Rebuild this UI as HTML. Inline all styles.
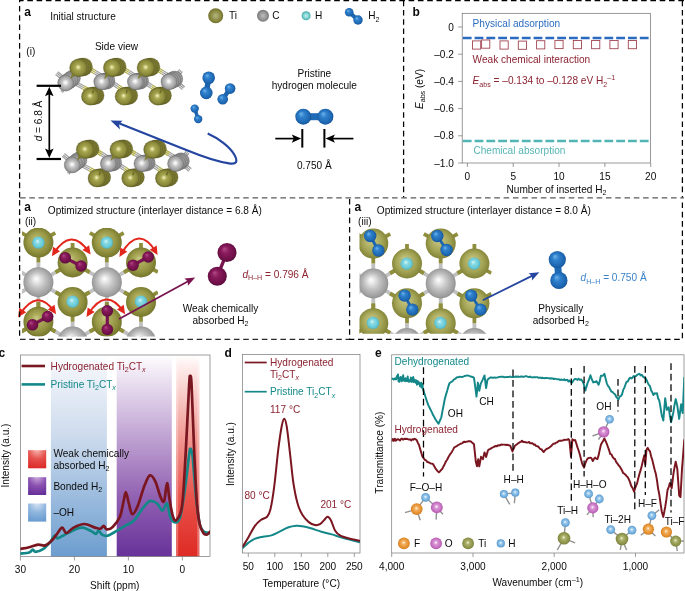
<!DOCTYPE html>
<html><head><meta charset="utf-8"><title>Figure</title>
<style>html,body{margin:0;padding:0;background:#fff;overflow:hidden}svg{display:block}text{font-family:"Liberation Sans",sans-serif;font-size:10.1px}</style></head><body>
<svg width="685" height="591" viewBox="0 0 685 591">
<defs>
<radialGradient id="gTi" cx="0.5" cy="0.5" r="0.55" fx="0.48" fy="0.46"><stop offset="0" stop-color="#fdfde0"/><stop offset="0.1" stop-color="#dad994"/><stop offset="0.32" stop-color="#a5a44e"/><stop offset="0.7" stop-color="#8c8b3c"/><stop offset="0.92" stop-color="#6c6b28"/><stop offset="1" stop-color="#56551c"/></radialGradient>
<radialGradient id="gC" cx="0.5" cy="0.5" r="0.55" fx="0.48" fy="0.46"><stop offset="0" stop-color="#ffffff"/><stop offset="0.12" stop-color="#f2f2f2"/><stop offset="0.38" stop-color="#c4c4c4"/><stop offset="0.72" stop-color="#a2a2a2"/><stop offset="1" stop-color="#6e6e6e"/></radialGradient>
<radialGradient id="gTiL" cx="0.5" cy="0.5" r="0.55" fx="0.5" fy="0.5"><stop offset="0" stop-color="#b6b680"/><stop offset="0.55" stop-color="#8e8e48"/><stop offset="0.85" stop-color="#77772f"/><stop offset="1" stop-color="#66662a"/></radialGradient>
<radialGradient id="gCL" cx="0.5" cy="0.5" r="0.55" fx="0.5" fy="0.5"><stop offset="0" stop-color="#bcbcbc"/><stop offset="0.55" stop-color="#979797"/><stop offset="0.85" stop-color="#7c7c7c"/><stop offset="1" stop-color="#707070"/></radialGradient>
<radialGradient id="gHL" cx="0.5" cy="0.5" r="0.55" fx="0.5" fy="0.5"><stop offset="0" stop-color="#c2f0f0"/><stop offset="0.5" stop-color="#84d4d4"/><stop offset="0.85" stop-color="#4cb0b0"/><stop offset="1" stop-color="#3fa3a3"/></radialGradient>
<radialGradient id="gTiB" cx="0.5" cy="0.5" r="0.55" fx="0.42" fy="0.36"><stop offset="0" stop-color="#c9c986"/><stop offset="0.25" stop-color="#adad5e"/><stop offset="0.6" stop-color="#979746"/><stop offset="0.88" stop-color="#7c7c30"/><stop offset="1" stop-color="#636326"/></radialGradient>
<radialGradient id="gTiC" cx="0.5" cy="0.5" r="0.55" fx="0.42" fy="0.36"><stop offset="0" stop-color="#d4d498"/><stop offset="0.25" stop-color="#baba74"/><stop offset="0.6" stop-color="#a4a456"/><stop offset="0.88" stop-color="#88883c"/><stop offset="1" stop-color="#6c6c2c"/></radialGradient>
<radialGradient id="gCB" cx="0.5" cy="0.5" r="0.55" fx="0.42" fy="0.38"><stop offset="0" stop-color="#ffffff"/><stop offset="0.15" stop-color="#ededed"/><stop offset="0.5" stop-color="#c0c0c0"/><stop offset="0.85" stop-color="#9c9c9c"/><stop offset="1" stop-color="#7c7c7c"/></radialGradient>
<radialGradient id="gHc" cx="0.5" cy="0.5" r="0.55" fx="0.42" fy="0.38"><stop offset="0" stop-color="#dcf8fa"/><stop offset="0.3" stop-color="#8adbe4"/><stop offset="0.75" stop-color="#66c8d6"/><stop offset="1" stop-color="#3fa4b6"/></radialGradient>
<radialGradient id="gHb" cx="0.5" cy="0.5" r="0.55" fx="0.35" fy="0.3"><stop offset="0" stop-color="#6db4ea"/><stop offset="0.35" stop-color="#2f80cc"/><stop offset="0.8" stop-color="#1c65b0"/><stop offset="1" stop-color="#134a88"/></radialGradient>
<radialGradient id="gHp" cx="0.5" cy="0.5" r="0.55" fx="0.35" fy="0.3"><stop offset="0" stop-color="#b04a86"/><stop offset="0.35" stop-color="#8a1b5c"/><stop offset="0.8" stop-color="#6d0f47"/><stop offset="1" stop-color="#4a0a30"/></radialGradient>
<radialGradient id="gF" cx="0.5" cy="0.5" r="0.55" fx="0.47" fy="0.42"><stop offset="0" stop-color="#fff6e4"/><stop offset="0.28" stop-color="#f2b060"/><stop offset="0.75" stop-color="#e38c2a"/><stop offset="1" stop-color="#c67216"/></radialGradient>
<radialGradient id="gO" cx="0.5" cy="0.5" r="0.55" fx="0.47" fy="0.42"><stop offset="0" stop-color="#ffffff"/><stop offset="0.28" stop-color="#dc98d6"/><stop offset="0.75" stop-color="#c26abe"/><stop offset="1" stop-color="#a64ea2"/></radialGradient>
<radialGradient id="gT2" cx="0.5" cy="0.5" r="0.55" fx="0.47" fy="0.42"><stop offset="0" stop-color="#f4f4d8"/><stop offset="0.28" stop-color="#adb26c"/><stop offset="0.75" stop-color="#8b9148"/><stop offset="1" stop-color="#727836"/></radialGradient>
<radialGradient id="gH2" cx="0.5" cy="0.5" r="0.55" fx="0.47" fy="0.42"><stop offset="0" stop-color="#f4faff"/><stop offset="0.3" stop-color="#9ccaec"/><stop offset="0.75" stop-color="#6aa8da"/><stop offset="1" stop-color="#4c8cc2"/></radialGradient>
<linearGradient id="bBlue" x1="0" y1="0" x2="0" y2="1"><stop offset="0" stop-color="#ffffff"/><stop offset="0.06" stop-color="#f2f5fa"/><stop offset="0.4" stop-color="#cddbed"/><stop offset="1" stop-color="#6c9dcf"/></linearGradient>
<linearGradient id="bPur" x1="0" y1="0" x2="0" y2="1"><stop offset="0" stop-color="#ffffff"/><stop offset="0.07" stop-color="#f3edf7"/><stop offset="0.32" stop-color="#cdb6dc"/><stop offset="0.7" stop-color="#9262b2"/><stop offset="1" stop-color="#67329a"/></linearGradient>
<linearGradient id="bRed" x1="0" y1="0" x2="0" y2="1"><stop offset="0" stop-color="#ffffff"/><stop offset="0.06" stop-color="#fdeceb"/><stop offset="0.3" stop-color="#f5b3ae"/><stop offset="0.7" stop-color="#e8544c"/><stop offset="1" stop-color="#de2a24"/></linearGradient>
<radialGradient id="lRed" cx="0.5" cy="0" r="1.0"><stop offset="0" stop-color="#f6b4b0"/><stop offset="0.5" stop-color="#e6504c"/><stop offset="1" stop-color="#dc2c2a"/></radialGradient>
<radialGradient id="lPur" cx="0.5" cy="0" r="1.0"><stop offset="0" stop-color="#c9a8dc"/><stop offset="0.5" stop-color="#8a50b0"/><stop offset="1" stop-color="#66309a"/></radialGradient>
<radialGradient id="lBlue" cx="0.5" cy="0" r="1.0"><stop offset="0" stop-color="#d6e4f4"/><stop offset="0.5" stop-color="#8fb6de"/><stop offset="1" stop-color="#6a9cd0"/></radialGradient>
<clipPath id="clip2"><rect x="22" y="228" width="136" height="108.5"/></clipPath>
<clipPath id="clip3"><rect x="359.5" y="228" width="132.2" height="105.7"/></clipPath>
<clipPath id="clipC"><rect x="20.4" y="355" width="189.6" height="200.5"/></clipPath>
<clipPath id="clipD"><rect x="242.5" y="354.5" width="117.5" height="198"/></clipPath>
<clipPath id="clipE"><rect x="391.7" y="355" width="292.3" height="198"/></clipPath>
</defs>
<rect width="685" height="591" fill="#fff"/>
<text x="24.3" y="16.0" fill="#0b0b0b" style="font-size:12px" font-weight="bold">a</text>
<text x="50.2" y="19.9" fill="#0b0b0b">Initial structure</text>
<text x="26.3" y="54.6" fill="#0b0b0b">(i)</text>
<text x="94.9" y="49.6" fill="#0b0b0b">Side view</text>
<circle cx="215.7" cy="15.8" r="7.5" fill="url(#gTiL)"/>
<text x="229.0" y="19.4" fill="#0b0b0b">Ti</text>
<circle cx="263.0" cy="15.8" r="6.0" fill="url(#gCL)"/>
<text x="272.2" y="19.4" fill="#0b0b0b">C</text>
<circle cx="306.1" cy="15.8" r="4.5" fill="url(#gHL)"/>
<text x="314.9" y="19.4" fill="#0b0b0b">H</text>
<line x1="349.2" y1="12.3" x2="358.0" y2="20.0" stroke="#1c65b0" stroke-width="4"/>
<circle cx="349.2" cy="12.3" r="4.3" fill="url(#gHb)"/>
<circle cx="358.0" cy="20.0" r="4.7" fill="url(#gHb)"/>
<text x="368.2" y="19.4" fill="#0b0b0b">H<tspan font-size="7.1" dy="2.4">2</tspan><tspan dy="-2.4">&#8203;</tspan></text>
<line x1="69.4" y1="79.5" x2="75.8" y2="71.8" stroke="#9e9e9e" stroke-width="1.15"/>
<line x1="75.8" y1="71.8" x2="82.2" y2="64.2" stroke="#b3b04c" stroke-width="1.25"/>
<line x1="70.7" y1="80.6" x2="77.1" y2="72.9" stroke="#9e9e9e" stroke-width="1.15"/>
<line x1="77.1" y1="72.9" x2="83.5" y2="65.3" stroke="#b3b04c" stroke-width="1.25"/>
<line x1="72.0" y1="81.7" x2="78.4" y2="74.1" stroke="#9e9e9e" stroke-width="1.15"/>
<line x1="78.4" y1="74.1" x2="84.8" y2="66.4" stroke="#b3b04c" stroke-width="1.25"/>
<line x1="71.5" y1="79.1" x2="83.8" y2="85.7" stroke="#9e9e9e" stroke-width="1.15"/>
<line x1="83.8" y1="85.7" x2="96.0" y2="92.4" stroke="#b3b04c" stroke-width="1.25"/>
<line x1="70.7" y1="80.6" x2="83.0" y2="87.2" stroke="#9e9e9e" stroke-width="1.15"/>
<line x1="83.0" y1="87.2" x2="95.2" y2="93.9" stroke="#b3b04c" stroke-width="1.25"/>
<line x1="69.9" y1="82.1" x2="82.1" y2="88.8" stroke="#9e9e9e" stroke-width="1.15"/>
<line x1="82.1" y1="88.8" x2="94.4" y2="95.4" stroke="#b3b04c" stroke-width="1.25"/>
<line x1="105.9" y1="80.8" x2="94.2" y2="73.8" stroke="#9e9e9e" stroke-width="1.15"/>
<line x1="94.2" y1="73.8" x2="82.6" y2="66.8" stroke="#b3b04c" stroke-width="1.25"/>
<line x1="106.8" y1="79.3" x2="95.2" y2="72.3" stroke="#9e9e9e" stroke-width="1.15"/>
<line x1="95.2" y1="72.3" x2="83.5" y2="65.3" stroke="#b3b04c" stroke-width="1.25"/>
<line x1="107.7" y1="77.8" x2="96.1" y2="70.8" stroke="#9e9e9e" stroke-width="1.15"/>
<line x1="96.1" y1="70.8" x2="84.4" y2="63.8" stroke="#b3b04c" stroke-width="1.25"/>
<line x1="105.4" y1="78.3" x2="110.6" y2="71.3" stroke="#9e9e9e" stroke-width="1.15"/>
<line x1="110.6" y1="71.3" x2="115.8" y2="64.3" stroke="#b3b04c" stroke-width="1.25"/>
<line x1="106.8" y1="79.3" x2="112.0" y2="72.3" stroke="#9e9e9e" stroke-width="1.15"/>
<line x1="112.0" y1="72.3" x2="117.2" y2="65.3" stroke="#b3b04c" stroke-width="1.25"/>
<line x1="108.2" y1="80.3" x2="113.4" y2="73.3" stroke="#9e9e9e" stroke-width="1.15"/>
<line x1="113.4" y1="73.3" x2="118.6" y2="66.3" stroke="#b3b04c" stroke-width="1.25"/>
<line x1="108.2" y1="80.4" x2="102.4" y2="87.7" stroke="#9e9e9e" stroke-width="1.15"/>
<line x1="102.4" y1="87.7" x2="96.6" y2="95.0" stroke="#b3b04c" stroke-width="1.25"/>
<line x1="106.8" y1="79.3" x2="101.0" y2="86.6" stroke="#9e9e9e" stroke-width="1.15"/>
<line x1="101.0" y1="86.6" x2="95.2" y2="93.9" stroke="#b3b04c" stroke-width="1.25"/>
<line x1="105.4" y1="78.2" x2="99.6" y2="85.5" stroke="#9e9e9e" stroke-width="1.15"/>
<line x1="99.6" y1="85.5" x2="93.8" y2="92.8" stroke="#b3b04c" stroke-width="1.25"/>
<line x1="107.8" y1="77.8" x2="118.8" y2="85.1" stroke="#9e9e9e" stroke-width="1.15"/>
<line x1="118.8" y1="85.1" x2="129.9" y2="92.4" stroke="#b3b04c" stroke-width="1.25"/>
<line x1="106.8" y1="79.3" x2="117.8" y2="86.6" stroke="#9e9e9e" stroke-width="1.15"/>
<line x1="117.8" y1="86.6" x2="128.9" y2="93.9" stroke="#b3b04c" stroke-width="1.25"/>
<line x1="105.8" y1="80.8" x2="116.9" y2="88.1" stroke="#9e9e9e" stroke-width="1.15"/>
<line x1="116.9" y1="88.1" x2="127.9" y2="95.4" stroke="#b3b04c" stroke-width="1.25"/>
<line x1="139.5" y1="80.8" x2="127.9" y2="73.8" stroke="#9e9e9e" stroke-width="1.15"/>
<line x1="127.9" y1="73.8" x2="116.3" y2="66.8" stroke="#b3b04c" stroke-width="1.25"/>
<line x1="140.4" y1="79.3" x2="128.8" y2="72.3" stroke="#9e9e9e" stroke-width="1.15"/>
<line x1="128.8" y1="72.3" x2="117.2" y2="65.3" stroke="#b3b04c" stroke-width="1.25"/>
<line x1="141.3" y1="77.8" x2="129.7" y2="70.8" stroke="#9e9e9e" stroke-width="1.15"/>
<line x1="129.7" y1="70.8" x2="118.1" y2="63.8" stroke="#b3b04c" stroke-width="1.25"/>
<line x1="139.0" y1="78.2" x2="144.2" y2="71.2" stroke="#9e9e9e" stroke-width="1.15"/>
<line x1="144.2" y1="71.2" x2="149.5" y2="64.2" stroke="#b3b04c" stroke-width="1.25"/>
<line x1="140.4" y1="79.3" x2="145.7" y2="72.3" stroke="#9e9e9e" stroke-width="1.15"/>
<line x1="145.7" y1="72.3" x2="150.9" y2="65.3" stroke="#b3b04c" stroke-width="1.25"/>
<line x1="141.8" y1="80.3" x2="147.1" y2="73.3" stroke="#9e9e9e" stroke-width="1.15"/>
<line x1="147.1" y1="73.3" x2="152.3" y2="66.3" stroke="#b3b04c" stroke-width="1.25"/>
<line x1="141.8" y1="80.4" x2="136.0" y2="87.7" stroke="#9e9e9e" stroke-width="1.15"/>
<line x1="136.0" y1="87.7" x2="130.3" y2="95.0" stroke="#b3b04c" stroke-width="1.25"/>
<line x1="140.4" y1="79.3" x2="134.7" y2="86.6" stroke="#9e9e9e" stroke-width="1.15"/>
<line x1="134.7" y1="86.6" x2="128.9" y2="93.9" stroke="#b3b04c" stroke-width="1.25"/>
<line x1="139.0" y1="78.2" x2="133.3" y2="85.5" stroke="#9e9e9e" stroke-width="1.15"/>
<line x1="133.3" y1="85.5" x2="127.5" y2="92.8" stroke="#b3b04c" stroke-width="1.25"/>
<line x1="141.4" y1="77.8" x2="152.5" y2="85.1" stroke="#9e9e9e" stroke-width="1.15"/>
<line x1="152.5" y1="85.1" x2="163.6" y2="92.4" stroke="#b3b04c" stroke-width="1.25"/>
<line x1="140.4" y1="79.3" x2="151.5" y2="86.6" stroke="#9e9e9e" stroke-width="1.15"/>
<line x1="151.5" y1="86.6" x2="162.6" y2="93.9" stroke="#b3b04c" stroke-width="1.25"/>
<line x1="139.4" y1="80.8" x2="150.5" y2="88.1" stroke="#9e9e9e" stroke-width="1.15"/>
<line x1="150.5" y1="88.1" x2="161.6" y2="95.4" stroke="#b3b04c" stroke-width="1.25"/>
<line x1="173.1" y1="80.8" x2="161.5" y2="73.8" stroke="#9e9e9e" stroke-width="1.15"/>
<line x1="161.5" y1="73.8" x2="150.0" y2="66.8" stroke="#b3b04c" stroke-width="1.25"/>
<line x1="174.0" y1="79.3" x2="162.4" y2="72.3" stroke="#9e9e9e" stroke-width="1.15"/>
<line x1="162.4" y1="72.3" x2="150.9" y2="65.3" stroke="#b3b04c" stroke-width="1.25"/>
<line x1="174.9" y1="77.8" x2="163.4" y2="70.8" stroke="#9e9e9e" stroke-width="1.15"/>
<line x1="163.4" y1="70.8" x2="151.8" y2="63.8" stroke="#b3b04c" stroke-width="1.25"/>
<line x1="175.4" y1="80.4" x2="169.7" y2="87.7" stroke="#9e9e9e" stroke-width="1.15"/>
<line x1="169.7" y1="87.7" x2="164.0" y2="95.0" stroke="#b3b04c" stroke-width="1.25"/>
<line x1="174.0" y1="79.3" x2="168.3" y2="86.6" stroke="#9e9e9e" stroke-width="1.15"/>
<line x1="168.3" y1="86.6" x2="162.6" y2="93.9" stroke="#b3b04c" stroke-width="1.25"/>
<line x1="172.6" y1="78.2" x2="166.9" y2="85.5" stroke="#9e9e9e" stroke-width="1.15"/>
<line x1="166.9" y1="85.5" x2="161.2" y2="92.8" stroke="#b3b04c" stroke-width="1.25"/>
<line x1="66.6" y1="83.5" x2="61.1" y2="79.0" stroke="#9e9e9e" stroke-width="1.15"/>
<line x1="61.1" y1="79.0" x2="55.6" y2="74.5" stroke="#9e9e9e" stroke-width="1.25"/>
<line x1="67.7" y1="82.1" x2="62.2" y2="77.6" stroke="#9e9e9e" stroke-width="1.15"/>
<line x1="62.2" y1="77.6" x2="56.7" y2="73.1" stroke="#9e9e9e" stroke-width="1.25"/>
<line x1="68.8" y1="80.7" x2="63.3" y2="76.2" stroke="#9e9e9e" stroke-width="1.15"/>
<line x1="63.3" y1="76.2" x2="57.8" y2="71.7" stroke="#9e9e9e" stroke-width="1.25"/>
<line x1="68.4" y1="83.6" x2="65.4" y2="88.1" stroke="#9e9e9e" stroke-width="1.15"/>
<line x1="65.4" y1="88.1" x2="62.4" y2="92.6" stroke="#9e9e9e" stroke-width="1.25"/>
<line x1="67.0" y1="82.6" x2="64.0" y2="87.1" stroke="#9e9e9e" stroke-width="1.15"/>
<line x1="64.0" y1="87.1" x2="61.0" y2="91.6" stroke="#9e9e9e" stroke-width="1.25"/>
<line x1="175.2" y1="78.5" x2="179.9" y2="82.7" stroke="#9e9e9e" stroke-width="1.15"/>
<line x1="179.9" y1="82.7" x2="184.7" y2="87.0" stroke="#9e9e9e" stroke-width="1.25"/>
<line x1="174.0" y1="79.8" x2="178.8" y2="84.0" stroke="#9e9e9e" stroke-width="1.15"/>
<line x1="178.8" y1="84.0" x2="183.5" y2="88.3" stroke="#9e9e9e" stroke-width="1.25"/>
<line x1="172.8" y1="81.1" x2="177.6" y2="85.4" stroke="#9e9e9e" stroke-width="1.15"/>
<line x1="177.6" y1="85.4" x2="182.3" y2="89.6" stroke="#9e9e9e" stroke-width="1.25"/>
<line x1="172.6" y1="78.8" x2="176.1" y2="74.0" stroke="#9e9e9e" stroke-width="1.15"/>
<line x1="176.1" y1="74.0" x2="179.6" y2="69.3" stroke="#9e9e9e" stroke-width="1.25"/>
<line x1="174.0" y1="79.8" x2="177.5" y2="75.0" stroke="#9e9e9e" stroke-width="1.15"/>
<line x1="177.5" y1="75.0" x2="181.0" y2="70.3" stroke="#9e9e9e" stroke-width="1.25"/>
<line x1="175.4" y1="80.8" x2="178.9" y2="76.1" stroke="#9e9e9e" stroke-width="1.15"/>
<line x1="178.9" y1="76.1" x2="182.4" y2="71.3" stroke="#9e9e9e" stroke-width="1.25"/>
<circle cx="95.3" cy="95.5" r="8.8" fill="url(#gTi)" stroke="#4a4916" stroke-opacity="0.5" stroke-width="0.5"/>
<circle cx="129.0" cy="95.5" r="8.8" fill="url(#gTi)" stroke="#4a4916" stroke-opacity="0.5" stroke-width="0.5"/>
<circle cx="162.7" cy="95.5" r="8.8" fill="url(#gTi)" stroke="#4a4916" stroke-opacity="0.5" stroke-width="0.5"/>
<circle cx="93.6" cy="95.8" r="8.8" fill="url(#gTi)" stroke="#4a4916" stroke-opacity="0.5" stroke-width="0.5"/>
<circle cx="127.3" cy="95.8" r="8.8" fill="url(#gTi)" stroke="#4a4916" stroke-opacity="0.5" stroke-width="0.5"/>
<circle cx="161.0" cy="95.8" r="8.8" fill="url(#gTi)" stroke="#4a4916" stroke-opacity="0.5" stroke-width="0.5"/>
<circle cx="91.9" cy="96.1" r="8.8" fill="url(#gTi)" stroke="#4a4916" stroke-opacity="0.5" stroke-width="0.5"/>
<circle cx="125.6" cy="96.1" r="8.8" fill="url(#gTi)" stroke="#4a4916" stroke-opacity="0.5" stroke-width="0.5"/>
<circle cx="159.3" cy="96.1" r="8.8" fill="url(#gTi)" stroke="#4a4916" stroke-opacity="0.5" stroke-width="0.5"/>
<circle cx="90.2" cy="96.4" r="8.8" fill="url(#gTi)" stroke="#4a4916" stroke-opacity="0.5" stroke-width="0.5"/>
<circle cx="123.9" cy="96.4" r="8.8" fill="url(#gTi)" stroke="#4a4916" stroke-opacity="0.5" stroke-width="0.5"/>
<circle cx="157.6" cy="96.4" r="8.8" fill="url(#gTi)" stroke="#4a4916" stroke-opacity="0.5" stroke-width="0.5"/>
<circle cx="72.3" cy="78.3" r="8.1" fill="url(#gC)" stroke="#555" stroke-opacity="0.5" stroke-width="0.5"/>
<circle cx="70.1" cy="79.9" r="8.1" fill="url(#gC)" stroke="#555" stroke-opacity="0.5" stroke-width="0.5"/>
<circle cx="67.9" cy="81.5" r="8.1" fill="url(#gC)" stroke="#555" stroke-opacity="0.5" stroke-width="0.5"/>
<circle cx="65.7" cy="83.1" r="8.1" fill="url(#gC)" stroke="#555" stroke-opacity="0.5" stroke-width="0.5"/>
<circle cx="106.9" cy="80.9" r="8.1" fill="url(#gC)" stroke="#555" stroke-opacity="0.5" stroke-width="0.5"/>
<circle cx="105.2" cy="81.2" r="8.1" fill="url(#gC)" stroke="#555" stroke-opacity="0.5" stroke-width="0.5"/>
<circle cx="103.5" cy="81.5" r="8.1" fill="url(#gC)" stroke="#555" stroke-opacity="0.5" stroke-width="0.5"/>
<circle cx="101.8" cy="81.8" r="8.1" fill="url(#gC)" stroke="#555" stroke-opacity="0.5" stroke-width="0.5"/>
<circle cx="140.5" cy="80.9" r="8.1" fill="url(#gC)" stroke="#555" stroke-opacity="0.5" stroke-width="0.5"/>
<circle cx="138.8" cy="81.2" r="8.1" fill="url(#gC)" stroke="#555" stroke-opacity="0.5" stroke-width="0.5"/>
<circle cx="137.1" cy="81.5" r="8.1" fill="url(#gC)" stroke="#555" stroke-opacity="0.5" stroke-width="0.5"/>
<circle cx="135.4" cy="81.8" r="8.1" fill="url(#gC)" stroke="#555" stroke-opacity="0.5" stroke-width="0.5"/>
<circle cx="174.7" cy="79.1" r="8.1" fill="url(#gC)" stroke="#555" stroke-opacity="0.5" stroke-width="0.5"/>
<circle cx="172.8" cy="80.0" r="8.1" fill="url(#gC)" stroke="#555" stroke-opacity="0.5" stroke-width="0.5"/>
<circle cx="170.9" cy="80.9" r="8.1" fill="url(#gC)" stroke="#555" stroke-opacity="0.5" stroke-width="0.5"/>
<circle cx="169.0" cy="81.8" r="8.1" fill="url(#gC)" stroke="#555" stroke-opacity="0.5" stroke-width="0.5"/>
<line x1="93.6" y1="89.9" x2="92.6" y2="93.4" stroke="#6f6e28" stroke-width="1.6"/>
<line x1="127.3" y1="89.9" x2="126.3" y2="93.4" stroke="#6f6e28" stroke-width="1.6"/>
<line x1="161.0" y1="89.9" x2="160.0" y2="93.4" stroke="#6f6e28" stroke-width="1.6"/>
<circle cx="83.6" cy="66.9" r="8.9" fill="url(#gTi)" stroke="#4a4916" stroke-opacity="0.5" stroke-width="0.5"/>
<circle cx="117.3" cy="66.9" r="8.9" fill="url(#gTi)" stroke="#4a4916" stroke-opacity="0.5" stroke-width="0.5"/>
<circle cx="151.0" cy="66.9" r="8.9" fill="url(#gTi)" stroke="#4a4916" stroke-opacity="0.5" stroke-width="0.5"/>
<circle cx="81.9" cy="67.2" r="8.9" fill="url(#gTi)" stroke="#4a4916" stroke-opacity="0.5" stroke-width="0.5"/>
<circle cx="115.6" cy="67.2" r="8.9" fill="url(#gTi)" stroke="#4a4916" stroke-opacity="0.5" stroke-width="0.5"/>
<circle cx="149.3" cy="67.2" r="8.9" fill="url(#gTi)" stroke="#4a4916" stroke-opacity="0.5" stroke-width="0.5"/>
<circle cx="80.2" cy="67.5" r="8.9" fill="url(#gTi)" stroke="#4a4916" stroke-opacity="0.5" stroke-width="0.5"/>
<circle cx="113.9" cy="67.5" r="8.9" fill="url(#gTi)" stroke="#4a4916" stroke-opacity="0.5" stroke-width="0.5"/>
<circle cx="147.6" cy="67.5" r="8.9" fill="url(#gTi)" stroke="#4a4916" stroke-opacity="0.5" stroke-width="0.5"/>
<circle cx="78.5" cy="67.8" r="8.9" fill="url(#gTi)" stroke="#4a4916" stroke-opacity="0.5" stroke-width="0.5"/>
<circle cx="112.2" cy="67.8" r="8.9" fill="url(#gTi)" stroke="#4a4916" stroke-opacity="0.5" stroke-width="0.5"/>
<circle cx="145.9" cy="67.8" r="8.9" fill="url(#gTi)" stroke="#4a4916" stroke-opacity="0.5" stroke-width="0.5"/>
<path d="M72.2 73.0L74.9 75.4L70.3 79.2Z" fill="#7d7c30"/>
<path d="M105.9 73.0L108.6 75.4L104.0 79.2Z" fill="#7d7c30"/>
<path d="M139.6 73.0L142.3 75.4L137.7 79.2Z" fill="#7d7c30"/>
<line x1="76.0" y1="161.3" x2="82.4" y2="153.6" stroke="#9e9e9e" stroke-width="1.15"/>
<line x1="82.4" y1="153.6" x2="88.8" y2="146.0" stroke="#b3b04c" stroke-width="1.25"/>
<line x1="77.3" y1="162.4" x2="83.7" y2="154.8" stroke="#9e9e9e" stroke-width="1.15"/>
<line x1="83.7" y1="154.8" x2="90.1" y2="147.1" stroke="#b3b04c" stroke-width="1.25"/>
<line x1="78.6" y1="163.5" x2="85.0" y2="155.9" stroke="#9e9e9e" stroke-width="1.15"/>
<line x1="85.0" y1="155.9" x2="91.4" y2="148.2" stroke="#b3b04c" stroke-width="1.25"/>
<line x1="78.1" y1="160.9" x2="90.4" y2="167.5" stroke="#9e9e9e" stroke-width="1.15"/>
<line x1="90.4" y1="167.5" x2="102.6" y2="174.2" stroke="#b3b04c" stroke-width="1.25"/>
<line x1="77.3" y1="162.4" x2="89.5" y2="169.1" stroke="#9e9e9e" stroke-width="1.15"/>
<line x1="89.5" y1="169.1" x2="101.8" y2="175.7" stroke="#b3b04c" stroke-width="1.25"/>
<line x1="76.5" y1="163.9" x2="88.7" y2="170.6" stroke="#9e9e9e" stroke-width="1.15"/>
<line x1="88.7" y1="170.6" x2="101.0" y2="177.2" stroke="#b3b04c" stroke-width="1.25"/>
<line x1="112.5" y1="162.6" x2="100.8" y2="155.6" stroke="#9e9e9e" stroke-width="1.15"/>
<line x1="100.8" y1="155.6" x2="89.2" y2="148.6" stroke="#b3b04c" stroke-width="1.25"/>
<line x1="113.4" y1="161.1" x2="101.8" y2="154.1" stroke="#9e9e9e" stroke-width="1.15"/>
<line x1="101.8" y1="154.1" x2="90.1" y2="147.1" stroke="#b3b04c" stroke-width="1.25"/>
<line x1="114.3" y1="159.6" x2="102.7" y2="152.6" stroke="#9e9e9e" stroke-width="1.15"/>
<line x1="102.7" y1="152.6" x2="91.0" y2="145.6" stroke="#b3b04c" stroke-width="1.25"/>
<line x1="112.0" y1="160.1" x2="117.2" y2="153.1" stroke="#9e9e9e" stroke-width="1.15"/>
<line x1="117.2" y1="153.1" x2="122.4" y2="146.1" stroke="#b3b04c" stroke-width="1.25"/>
<line x1="113.4" y1="161.1" x2="118.6" y2="154.1" stroke="#9e9e9e" stroke-width="1.15"/>
<line x1="118.6" y1="154.1" x2="123.8" y2="147.1" stroke="#b3b04c" stroke-width="1.25"/>
<line x1="114.8" y1="162.1" x2="120.0" y2="155.1" stroke="#9e9e9e" stroke-width="1.15"/>
<line x1="120.0" y1="155.1" x2="125.2" y2="148.1" stroke="#b3b04c" stroke-width="1.25"/>
<line x1="114.8" y1="162.2" x2="109.0" y2="169.5" stroke="#9e9e9e" stroke-width="1.15"/>
<line x1="109.0" y1="169.5" x2="103.2" y2="176.8" stroke="#b3b04c" stroke-width="1.25"/>
<line x1="113.4" y1="161.1" x2="107.6" y2="168.4" stroke="#9e9e9e" stroke-width="1.15"/>
<line x1="107.6" y1="168.4" x2="101.8" y2="175.7" stroke="#b3b04c" stroke-width="1.25"/>
<line x1="112.0" y1="160.0" x2="106.2" y2="167.3" stroke="#9e9e9e" stroke-width="1.15"/>
<line x1="106.2" y1="167.3" x2="100.4" y2="174.6" stroke="#b3b04c" stroke-width="1.25"/>
<line x1="114.4" y1="159.6" x2="125.4" y2="166.9" stroke="#9e9e9e" stroke-width="1.15"/>
<line x1="125.4" y1="166.9" x2="136.5" y2="174.2" stroke="#b3b04c" stroke-width="1.25"/>
<line x1="113.4" y1="161.1" x2="124.4" y2="168.4" stroke="#9e9e9e" stroke-width="1.15"/>
<line x1="124.4" y1="168.4" x2="135.5" y2="175.7" stroke="#b3b04c" stroke-width="1.25"/>
<line x1="112.4" y1="162.6" x2="123.5" y2="169.9" stroke="#9e9e9e" stroke-width="1.15"/>
<line x1="123.5" y1="169.9" x2="134.5" y2="177.2" stroke="#b3b04c" stroke-width="1.25"/>
<line x1="146.1" y1="162.6" x2="134.5" y2="155.6" stroke="#9e9e9e" stroke-width="1.15"/>
<line x1="134.5" y1="155.6" x2="122.9" y2="148.6" stroke="#b3b04c" stroke-width="1.25"/>
<line x1="147.0" y1="161.1" x2="135.4" y2="154.1" stroke="#9e9e9e" stroke-width="1.15"/>
<line x1="135.4" y1="154.1" x2="123.8" y2="147.1" stroke="#b3b04c" stroke-width="1.25"/>
<line x1="147.9" y1="159.6" x2="136.3" y2="152.6" stroke="#9e9e9e" stroke-width="1.15"/>
<line x1="136.3" y1="152.6" x2="124.7" y2="145.6" stroke="#b3b04c" stroke-width="1.25"/>
<line x1="145.6" y1="160.1" x2="150.8" y2="153.1" stroke="#9e9e9e" stroke-width="1.15"/>
<line x1="150.8" y1="153.1" x2="156.1" y2="146.1" stroke="#b3b04c" stroke-width="1.25"/>
<line x1="147.0" y1="161.1" x2="152.2" y2="154.1" stroke="#9e9e9e" stroke-width="1.15"/>
<line x1="152.2" y1="154.1" x2="157.5" y2="147.1" stroke="#b3b04c" stroke-width="1.25"/>
<line x1="148.4" y1="162.1" x2="153.7" y2="155.1" stroke="#9e9e9e" stroke-width="1.15"/>
<line x1="153.7" y1="155.1" x2="158.9" y2="148.1" stroke="#b3b04c" stroke-width="1.25"/>
<line x1="148.4" y1="162.2" x2="142.6" y2="169.5" stroke="#9e9e9e" stroke-width="1.15"/>
<line x1="142.6" y1="169.5" x2="136.9" y2="176.8" stroke="#b3b04c" stroke-width="1.25"/>
<line x1="147.0" y1="161.1" x2="141.2" y2="168.4" stroke="#9e9e9e" stroke-width="1.15"/>
<line x1="141.2" y1="168.4" x2="135.5" y2="175.7" stroke="#b3b04c" stroke-width="1.25"/>
<line x1="145.6" y1="160.0" x2="139.9" y2="167.3" stroke="#9e9e9e" stroke-width="1.15"/>
<line x1="139.9" y1="167.3" x2="134.1" y2="174.6" stroke="#b3b04c" stroke-width="1.25"/>
<line x1="148.0" y1="159.6" x2="159.1" y2="166.9" stroke="#9e9e9e" stroke-width="1.15"/>
<line x1="159.1" y1="166.9" x2="170.2" y2="174.2" stroke="#b3b04c" stroke-width="1.25"/>
<line x1="147.0" y1="161.1" x2="158.1" y2="168.4" stroke="#9e9e9e" stroke-width="1.15"/>
<line x1="158.1" y1="168.4" x2="169.2" y2="175.7" stroke="#b3b04c" stroke-width="1.25"/>
<line x1="146.0" y1="162.6" x2="157.1" y2="169.9" stroke="#9e9e9e" stroke-width="1.15"/>
<line x1="157.1" y1="169.9" x2="168.2" y2="177.2" stroke="#b3b04c" stroke-width="1.25"/>
<line x1="179.7" y1="162.6" x2="168.1" y2="155.6" stroke="#9e9e9e" stroke-width="1.15"/>
<line x1="168.1" y1="155.6" x2="156.6" y2="148.6" stroke="#b3b04c" stroke-width="1.25"/>
<line x1="180.6" y1="161.1" x2="169.0" y2="154.1" stroke="#9e9e9e" stroke-width="1.15"/>
<line x1="169.0" y1="154.1" x2="157.5" y2="147.1" stroke="#b3b04c" stroke-width="1.25"/>
<line x1="181.5" y1="159.6" x2="170.0" y2="152.6" stroke="#9e9e9e" stroke-width="1.15"/>
<line x1="170.0" y1="152.6" x2="158.4" y2="145.6" stroke="#b3b04c" stroke-width="1.25"/>
<line x1="182.0" y1="162.2" x2="176.3" y2="169.5" stroke="#9e9e9e" stroke-width="1.15"/>
<line x1="176.3" y1="169.5" x2="170.6" y2="176.8" stroke="#b3b04c" stroke-width="1.25"/>
<line x1="180.6" y1="161.1" x2="174.9" y2="168.4" stroke="#9e9e9e" stroke-width="1.15"/>
<line x1="174.9" y1="168.4" x2="169.2" y2="175.7" stroke="#b3b04c" stroke-width="1.25"/>
<line x1="179.2" y1="160.0" x2="173.5" y2="167.3" stroke="#9e9e9e" stroke-width="1.15"/>
<line x1="173.5" y1="167.3" x2="167.8" y2="174.6" stroke="#b3b04c" stroke-width="1.25"/>
<line x1="73.2" y1="165.3" x2="67.7" y2="160.8" stroke="#9e9e9e" stroke-width="1.15"/>
<line x1="67.7" y1="160.8" x2="62.2" y2="156.3" stroke="#9e9e9e" stroke-width="1.25"/>
<line x1="74.3" y1="163.9" x2="68.8" y2="159.4" stroke="#9e9e9e" stroke-width="1.15"/>
<line x1="68.8" y1="159.4" x2="63.3" y2="154.9" stroke="#9e9e9e" stroke-width="1.25"/>
<line x1="75.4" y1="162.5" x2="69.9" y2="158.0" stroke="#9e9e9e" stroke-width="1.15"/>
<line x1="69.9" y1="158.0" x2="64.4" y2="153.5" stroke="#9e9e9e" stroke-width="1.25"/>
<line x1="75.0" y1="165.4" x2="72.0" y2="169.9" stroke="#9e9e9e" stroke-width="1.15"/>
<line x1="72.0" y1="169.9" x2="69.0" y2="174.4" stroke="#9e9e9e" stroke-width="1.25"/>
<line x1="73.6" y1="164.4" x2="70.6" y2="168.9" stroke="#9e9e9e" stroke-width="1.15"/>
<line x1="70.6" y1="168.9" x2="67.6" y2="173.4" stroke="#9e9e9e" stroke-width="1.25"/>
<line x1="181.8" y1="160.3" x2="186.5" y2="164.5" stroke="#9e9e9e" stroke-width="1.15"/>
<line x1="186.5" y1="164.5" x2="191.3" y2="168.8" stroke="#9e9e9e" stroke-width="1.25"/>
<line x1="180.6" y1="161.6" x2="185.3" y2="165.8" stroke="#9e9e9e" stroke-width="1.15"/>
<line x1="185.3" y1="165.8" x2="190.1" y2="170.1" stroke="#9e9e9e" stroke-width="1.25"/>
<line x1="179.4" y1="162.9" x2="184.2" y2="167.2" stroke="#9e9e9e" stroke-width="1.15"/>
<line x1="184.2" y1="167.2" x2="188.9" y2="171.4" stroke="#9e9e9e" stroke-width="1.25"/>
<line x1="179.2" y1="160.6" x2="182.7" y2="155.8" stroke="#9e9e9e" stroke-width="1.15"/>
<line x1="182.7" y1="155.8" x2="186.2" y2="151.1" stroke="#9e9e9e" stroke-width="1.25"/>
<line x1="180.6" y1="161.6" x2="184.1" y2="156.8" stroke="#9e9e9e" stroke-width="1.15"/>
<line x1="184.1" y1="156.8" x2="187.6" y2="152.1" stroke="#9e9e9e" stroke-width="1.25"/>
<line x1="182.0" y1="162.6" x2="185.5" y2="157.9" stroke="#9e9e9e" stroke-width="1.15"/>
<line x1="185.5" y1="157.9" x2="189.0" y2="153.1" stroke="#9e9e9e" stroke-width="1.25"/>
<circle cx="101.9" cy="177.3" r="8.8" fill="url(#gTi)" stroke="#4a4916" stroke-opacity="0.5" stroke-width="0.5"/>
<circle cx="135.6" cy="177.3" r="8.8" fill="url(#gTi)" stroke="#4a4916" stroke-opacity="0.5" stroke-width="0.5"/>
<circle cx="169.3" cy="177.3" r="8.8" fill="url(#gTi)" stroke="#4a4916" stroke-opacity="0.5" stroke-width="0.5"/>
<circle cx="100.2" cy="177.6" r="8.8" fill="url(#gTi)" stroke="#4a4916" stroke-opacity="0.5" stroke-width="0.5"/>
<circle cx="133.9" cy="177.6" r="8.8" fill="url(#gTi)" stroke="#4a4916" stroke-opacity="0.5" stroke-width="0.5"/>
<circle cx="167.6" cy="177.6" r="8.8" fill="url(#gTi)" stroke="#4a4916" stroke-opacity="0.5" stroke-width="0.5"/>
<circle cx="98.5" cy="177.9" r="8.8" fill="url(#gTi)" stroke="#4a4916" stroke-opacity="0.5" stroke-width="0.5"/>
<circle cx="132.2" cy="177.9" r="8.8" fill="url(#gTi)" stroke="#4a4916" stroke-opacity="0.5" stroke-width="0.5"/>
<circle cx="165.9" cy="177.9" r="8.8" fill="url(#gTi)" stroke="#4a4916" stroke-opacity="0.5" stroke-width="0.5"/>
<circle cx="96.8" cy="178.2" r="8.8" fill="url(#gTi)" stroke="#4a4916" stroke-opacity="0.5" stroke-width="0.5"/>
<circle cx="130.5" cy="178.2" r="8.8" fill="url(#gTi)" stroke="#4a4916" stroke-opacity="0.5" stroke-width="0.5"/>
<circle cx="164.2" cy="178.2" r="8.8" fill="url(#gTi)" stroke="#4a4916" stroke-opacity="0.5" stroke-width="0.5"/>
<circle cx="78.9" cy="160.1" r="8.1" fill="url(#gC)" stroke="#555" stroke-opacity="0.5" stroke-width="0.5"/>
<circle cx="76.7" cy="161.7" r="8.1" fill="url(#gC)" stroke="#555" stroke-opacity="0.5" stroke-width="0.5"/>
<circle cx="74.5" cy="163.3" r="8.1" fill="url(#gC)" stroke="#555" stroke-opacity="0.5" stroke-width="0.5"/>
<circle cx="72.3" cy="164.9" r="8.1" fill="url(#gC)" stroke="#555" stroke-opacity="0.5" stroke-width="0.5"/>
<circle cx="113.5" cy="162.7" r="8.1" fill="url(#gC)" stroke="#555" stroke-opacity="0.5" stroke-width="0.5"/>
<circle cx="111.8" cy="163.0" r="8.1" fill="url(#gC)" stroke="#555" stroke-opacity="0.5" stroke-width="0.5"/>
<circle cx="110.1" cy="163.3" r="8.1" fill="url(#gC)" stroke="#555" stroke-opacity="0.5" stroke-width="0.5"/>
<circle cx="108.4" cy="163.6" r="8.1" fill="url(#gC)" stroke="#555" stroke-opacity="0.5" stroke-width="0.5"/>
<circle cx="147.1" cy="162.7" r="8.1" fill="url(#gC)" stroke="#555" stroke-opacity="0.5" stroke-width="0.5"/>
<circle cx="145.4" cy="163.0" r="8.1" fill="url(#gC)" stroke="#555" stroke-opacity="0.5" stroke-width="0.5"/>
<circle cx="143.7" cy="163.3" r="8.1" fill="url(#gC)" stroke="#555" stroke-opacity="0.5" stroke-width="0.5"/>
<circle cx="142.0" cy="163.6" r="8.1" fill="url(#gC)" stroke="#555" stroke-opacity="0.5" stroke-width="0.5"/>
<circle cx="181.3" cy="160.9" r="8.1" fill="url(#gC)" stroke="#555" stroke-opacity="0.5" stroke-width="0.5"/>
<circle cx="179.4" cy="161.8" r="8.1" fill="url(#gC)" stroke="#555" stroke-opacity="0.5" stroke-width="0.5"/>
<circle cx="177.5" cy="162.7" r="8.1" fill="url(#gC)" stroke="#555" stroke-opacity="0.5" stroke-width="0.5"/>
<circle cx="175.6" cy="163.6" r="8.1" fill="url(#gC)" stroke="#555" stroke-opacity="0.5" stroke-width="0.5"/>
<line x1="100.2" y1="171.7" x2="99.2" y2="175.2" stroke="#6f6e28" stroke-width="1.6"/>
<line x1="133.9" y1="171.7" x2="132.9" y2="175.2" stroke="#6f6e28" stroke-width="1.6"/>
<line x1="167.6" y1="171.7" x2="166.6" y2="175.2" stroke="#6f6e28" stroke-width="1.6"/>
<circle cx="90.2" cy="148.7" r="8.9" fill="url(#gTi)" stroke="#4a4916" stroke-opacity="0.5" stroke-width="0.5"/>
<circle cx="123.9" cy="148.7" r="8.9" fill="url(#gTi)" stroke="#4a4916" stroke-opacity="0.5" stroke-width="0.5"/>
<circle cx="157.6" cy="148.7" r="8.9" fill="url(#gTi)" stroke="#4a4916" stroke-opacity="0.5" stroke-width="0.5"/>
<circle cx="88.5" cy="149.0" r="8.9" fill="url(#gTi)" stroke="#4a4916" stroke-opacity="0.5" stroke-width="0.5"/>
<circle cx="122.2" cy="149.0" r="8.9" fill="url(#gTi)" stroke="#4a4916" stroke-opacity="0.5" stroke-width="0.5"/>
<circle cx="155.9" cy="149.0" r="8.9" fill="url(#gTi)" stroke="#4a4916" stroke-opacity="0.5" stroke-width="0.5"/>
<circle cx="86.8" cy="149.3" r="8.9" fill="url(#gTi)" stroke="#4a4916" stroke-opacity="0.5" stroke-width="0.5"/>
<circle cx="120.5" cy="149.3" r="8.9" fill="url(#gTi)" stroke="#4a4916" stroke-opacity="0.5" stroke-width="0.5"/>
<circle cx="154.2" cy="149.3" r="8.9" fill="url(#gTi)" stroke="#4a4916" stroke-opacity="0.5" stroke-width="0.5"/>
<circle cx="85.1" cy="149.6" r="8.9" fill="url(#gTi)" stroke="#4a4916" stroke-opacity="0.5" stroke-width="0.5"/>
<circle cx="118.8" cy="149.6" r="8.9" fill="url(#gTi)" stroke="#4a4916" stroke-opacity="0.5" stroke-width="0.5"/>
<circle cx="152.5" cy="149.6" r="8.9" fill="url(#gTi)" stroke="#4a4916" stroke-opacity="0.5" stroke-width="0.5"/>
<path d="M78.8 154.8L81.5 157.2L76.9 161.0Z" fill="#7d7c30"/>
<path d="M112.5 154.8L115.2 157.2L110.6 161.0Z" fill="#7d7c30"/>
<path d="M146.2 154.8L148.9 157.2L144.3 161.0Z" fill="#7d7c30"/>
<line x1="36.6" y1="85.8" x2="61.0" y2="85.8" stroke="#000" stroke-width="2.2"/>
<line x1="36.6" y1="159.0" x2="61.0" y2="159.0" stroke="#000" stroke-width="2.2"/>
<line x1="49.3" y1="92.0" x2="49.3" y2="153.0" stroke="#000" stroke-width="1.7"/>
<path d="M49.3 86.8L45 96.2L49.3 94.2L53.6 96.2Z" fill="#000"/>
<path d="M49.3 158L45 148.6L49.3 150.6L53.6 148.6Z" fill="#000"/>
<text transform="translate(41.7,121) rotate(-90)" text-anchor="middle" fill="#0b0b0b"><tspan font-style="italic">d</tspan> = 6.8 Å</text>
<line x1="208.7" y1="77.8" x2="206.3" y2="92.9" stroke="#1c65b0" stroke-width="5.4"/>
<circle cx="208.7" cy="77.8" r="6.3" fill="url(#gHb)"/>
<circle cx="206.3" cy="92.9" r="6.3" fill="url(#gHb)"/>
<line x1="230.1" y1="88.6" x2="222.7" y2="99.2" stroke="#1c65b0" stroke-width="4.4"/>
<circle cx="230.1" cy="88.6" r="5.3" fill="url(#gHb)"/>
<circle cx="222.7" cy="99.2" r="5.3" fill="url(#gHb)"/>
<line x1="194.7" y1="108.6" x2="198.2" y2="119.1" stroke="#1c65b0" stroke-width="3.4"/>
<circle cx="194.7" cy="108.6" r="4.2" fill="url(#gHb)"/>
<circle cx="198.2" cy="119.1" r="4.2" fill="url(#gHb)"/>
<path d="M207.7 133.5C218 138 230 147 234.5 155C238 161.5 236.8 164.6 229 163.3C215 161 200 155.5 187.6 150.4C165 141.5 143 132.5 117 122.4" fill="none" stroke="#2546a0" stroke-width="2.2"/>
<path d="M110.5 120.6L122.5 120.8L119 124.2L120 129.5Z" fill="#2546a0"/>
<text x="314.3" y="76.9" fill="#0b0b0b" text-anchor="middle">Pristine</text>
<text x="314.3" y="88.9" fill="#0b0b0b" text-anchor="middle">hydrogen molecule</text>
<line x1="303.3" y1="116.7" x2="325.4" y2="116.7" stroke="#1f6ab6" stroke-width="7"/>
<circle cx="303.3" cy="116.7" r="8.0" fill="url(#gHb)"/>
<circle cx="325.4" cy="116.7" r="8.0" fill="url(#gHb)"/>
<line x1="302.3" y1="129.0" x2="302.3" y2="147.6" stroke="#000" stroke-width="2.0"/>
<line x1="324.4" y1="129.0" x2="324.4" y2="147.6" stroke="#000" stroke-width="2.0"/>
<line x1="275.3" y1="138.6" x2="295.0" y2="138.6" stroke="#000" stroke-width="1.7"/>
<line x1="353.4" y1="138.6" x2="332.0" y2="138.6" stroke="#000" stroke-width="1.7"/>
<path d="M301.2 138.6L291.8 134.4L293.8 138.6L291.8 142.8Z" fill="#000"/>
<path d="M325.5 138.6L334.9 134.4L332.9 138.6L334.9 142.8Z" fill="#000"/>
<text x="314.3" y="168.8" fill="#0b0b0b" text-anchor="middle">0.750 Å</text>
<rect x="462.2" y="13.3" width="188.3" height="149.7" fill="none" stroke="#6e6e6e" stroke-width="0.7"/>
<line x1="458.2" y1="27.0" x2="462.2" y2="27.0" stroke="#6e6e6e" stroke-width="0.7"/>
<text x="453.9" y="30.6" fill="#0b0b0b" text-anchor="end">0</text>
<line x1="458.2" y1="54.2" x2="462.2" y2="54.2" stroke="#6e6e6e" stroke-width="0.7"/>
<text x="453.9" y="57.8" fill="#0b0b0b" text-anchor="end">–0.2</text>
<line x1="458.2" y1="81.4" x2="462.2" y2="81.4" stroke="#6e6e6e" stroke-width="0.7"/>
<text x="453.9" y="85.0" fill="#0b0b0b" text-anchor="end">–0.4</text>
<line x1="458.2" y1="108.6" x2="462.2" y2="108.6" stroke="#6e6e6e" stroke-width="0.7"/>
<text x="453.9" y="112.2" fill="#0b0b0b" text-anchor="end">–0.6</text>
<line x1="458.2" y1="135.8" x2="462.2" y2="135.8" stroke="#6e6e6e" stroke-width="0.7"/>
<text x="453.9" y="139.4" fill="#0b0b0b" text-anchor="end">–0.8</text>
<line x1="458.2" y1="163.0" x2="462.2" y2="163.0" stroke="#6e6e6e" stroke-width="0.7"/>
<text x="453.9" y="166.6" fill="#0b0b0b" text-anchor="end">–1.0</text>
<line x1="467.4" y1="163.0" x2="467.4" y2="167.0" stroke="#6e6e6e" stroke-width="0.7"/>
<text x="467.4" y="179.9" fill="#0b0b0b" text-anchor="middle">0</text>
<line x1="513.2" y1="163.0" x2="513.2" y2="167.0" stroke="#6e6e6e" stroke-width="0.7"/>
<text x="513.2" y="179.9" fill="#0b0b0b" text-anchor="middle">5</text>
<line x1="559.0" y1="163.0" x2="559.0" y2="167.0" stroke="#6e6e6e" stroke-width="0.7"/>
<text x="559.0" y="179.9" fill="#0b0b0b" text-anchor="middle">10</text>
<line x1="604.9" y1="163.0" x2="604.9" y2="167.0" stroke="#6e6e6e" stroke-width="0.7"/>
<text x="604.9" y="179.9" fill="#0b0b0b" text-anchor="middle">15</text>
<line x1="650.7" y1="163.0" x2="650.7" y2="167.0" stroke="#6e6e6e" stroke-width="0.7"/>
<text x="650.7" y="179.9" fill="#0b0b0b" text-anchor="middle">20</text>
<text x="556.5" y="193.0" fill="#0b0b0b" text-anchor="middle">Number of inserted H<tspan font-size="7.1" dy="2.4">2</tspan><tspan dy="-2.4">&#8203;</tspan></text>
<text transform="translate(422.6,89) rotate(-90)" text-anchor="middle" fill="#0b0b0b"><tspan font-style="italic">E</tspan><tspan font-size="7.1" dy="2.4">abs</tspan><tspan dy="-2.4"> (eV)</tspan></text>
<text x="412.5" y="15.8" fill="#0b0b0b" style="font-size:12px" font-weight="bold">b</text>
<line x1="462.8" y1="37.9" x2="650.5" y2="37.9" stroke="#2a6abf" stroke-width="2.5" stroke-dasharray="8.8 3"/>
<line x1="462.8" y1="141.0" x2="650.5" y2="141.0" stroke="#52b4b4" stroke-width="2.3" stroke-dasharray="8.8 3"/>
<rect x="472.5" y="40.9" width="8.2" height="8.2" fill="#fff" stroke="#a04550" stroke-width="0.9"/>
<rect x="481.6" y="40.0" width="8.2" height="8.2" fill="#fff" stroke="#a04550" stroke-width="0.9"/>
<rect x="500.0" y="40.9" width="8.2" height="8.2" fill="#fff" stroke="#a04550" stroke-width="0.9"/>
<rect x="518.3" y="41.1" width="8.2" height="8.2" fill="#fff" stroke="#a04550" stroke-width="0.9"/>
<rect x="536.6" y="40.7" width="8.2" height="8.2" fill="#fff" stroke="#a04550" stroke-width="0.9"/>
<rect x="554.9" y="40.4" width="8.2" height="8.2" fill="#fff" stroke="#a04550" stroke-width="0.9"/>
<rect x="573.3" y="40.5" width="8.2" height="8.2" fill="#fff" stroke="#a04550" stroke-width="0.9"/>
<rect x="591.6" y="40.5" width="8.2" height="8.2" fill="#fff" stroke="#a04550" stroke-width="0.9"/>
<rect x="609.9" y="40.5" width="8.2" height="8.2" fill="#fff" stroke="#a04550" stroke-width="0.9"/>
<rect x="628.3" y="40.5" width="8.2" height="8.2" fill="#fff" stroke="#a04550" stroke-width="0.9"/>
<text x="472.6" y="27.2" fill="#2c6dc0">Physical adsorption</text>
<text x="472.6" y="62.8" fill="#8c2331">Weak chemical interaction</text>
<text x="472.6" y="84.2" fill="#8c2331"><tspan font-style="italic">E</tspan><tspan font-size="7.1" dy="2.4">abs</tspan><tspan dy="-2.4"> = –0.134 to –0.128 eV H</tspan><tspan font-size="7.1" dy="2.4">2</tspan><tspan font-size="7.1" dy="-6.2">–1</tspan></text>
<text x="473.4" y="153.8" fill="#56b4b4">Chemical absorption</text>
<text x="24.3" y="211.2" fill="#0b0b0b" style="font-size:12px" font-weight="bold">a</text>
<text x="47.8" y="214.2" fill="#0b0b0b">Optimized structure (interlayer distance = 6.8 Å)</text>
<text x="24.9" y="225.1" fill="#0b0b0b">(ii)</text>
<text x="354.5" y="211.2" fill="#0b0b0b" style="font-size:12px" font-weight="bold">a</text>
<text x="376.8" y="214.2" fill="#0b0b0b">Optimized structure (interlayer distance = 8.0 Å)</text>
<text x="358.1" y="225.1" fill="#0b0b0b">(iii)</text>
<g clip-path="url(#clip2)">
<line x1="38.4" y1="282.2" x2="38.4" y2="262.4" stroke="#c0c0c0" stroke-width="3.8"/>
<line x1="38.4" y1="262.4" x2="38.4" y2="242.6" stroke="#8f8e3c" stroke-width="3.8"/>
<line x1="38.4" y1="282.2" x2="21.3" y2="272.3" stroke="#c0c0c0" stroke-width="3.8"/>
<line x1="21.3" y1="272.3" x2="4.2" y2="262.4" stroke="#8f8e3c" stroke-width="3.8"/>
<line x1="38.4" y1="282.2" x2="55.5" y2="272.3" stroke="#c0c0c0" stroke-width="3.8"/>
<line x1="55.5" y1="272.3" x2="72.6" y2="262.4" stroke="#8f8e3c" stroke-width="3.8"/>
<line x1="38.4" y1="282.2" x2="21.3" y2="292.1" stroke="#c0c0c0" stroke-width="3.8"/>
<line x1="21.3" y1="292.1" x2="4.2" y2="302.0" stroke="#8f8e3c" stroke-width="3.8"/>
<line x1="38.4" y1="282.2" x2="55.5" y2="292.1" stroke="#c0c0c0" stroke-width="3.8"/>
<line x1="55.5" y1="292.1" x2="72.6" y2="302.0" stroke="#8f8e3c" stroke-width="3.8"/>
<line x1="38.4" y1="282.2" x2="38.4" y2="302.0" stroke="#c0c0c0" stroke-width="3.8"/>
<line x1="38.4" y1="302.0" x2="38.4" y2="321.8" stroke="#8f8e3c" stroke-width="3.8"/>
<line x1="106.8" y1="282.2" x2="106.8" y2="262.4" stroke="#c0c0c0" stroke-width="3.8"/>
<line x1="106.8" y1="262.4" x2="106.8" y2="242.6" stroke="#8f8e3c" stroke-width="3.8"/>
<line x1="106.8" y1="282.2" x2="89.7" y2="272.3" stroke="#c0c0c0" stroke-width="3.8"/>
<line x1="89.7" y1="272.3" x2="72.6" y2="262.4" stroke="#8f8e3c" stroke-width="3.8"/>
<line x1="106.8" y1="282.2" x2="123.9" y2="272.3" stroke="#c0c0c0" stroke-width="3.8"/>
<line x1="123.9" y1="272.3" x2="141.0" y2="262.4" stroke="#8f8e3c" stroke-width="3.8"/>
<line x1="106.8" y1="282.2" x2="89.7" y2="292.1" stroke="#c0c0c0" stroke-width="3.8"/>
<line x1="89.7" y1="292.1" x2="72.6" y2="302.0" stroke="#8f8e3c" stroke-width="3.8"/>
<line x1="106.8" y1="282.2" x2="123.9" y2="292.1" stroke="#c0c0c0" stroke-width="3.8"/>
<line x1="123.9" y1="292.1" x2="141.0" y2="302.0" stroke="#8f8e3c" stroke-width="3.8"/>
<line x1="106.8" y1="282.2" x2="106.8" y2="302.0" stroke="#c0c0c0" stroke-width="3.8"/>
<line x1="106.8" y1="302.0" x2="106.8" y2="321.8" stroke="#8f8e3c" stroke-width="3.8"/>
<line x1="4.2" y1="341.6" x2="4.2" y2="321.8" stroke="#c0c0c0" stroke-width="3.8"/>
<line x1="4.2" y1="321.8" x2="4.2" y2="302.0" stroke="#8f8e3c" stroke-width="3.8"/>
<line x1="4.2" y1="341.6" x2="21.3" y2="331.7" stroke="#c0c0c0" stroke-width="3.8"/>
<line x1="21.3" y1="331.7" x2="38.4" y2="321.8" stroke="#8f8e3c" stroke-width="3.8"/>
<line x1="72.6" y1="341.6" x2="72.6" y2="321.8" stroke="#c0c0c0" stroke-width="3.8"/>
<line x1="72.6" y1="321.8" x2="72.6" y2="302.0" stroke="#8f8e3c" stroke-width="3.8"/>
<line x1="72.6" y1="341.6" x2="55.5" y2="331.7" stroke="#c0c0c0" stroke-width="3.8"/>
<line x1="55.5" y1="331.7" x2="38.4" y2="321.8" stroke="#8f8e3c" stroke-width="3.8"/>
<line x1="72.6" y1="341.6" x2="89.7" y2="331.7" stroke="#c0c0c0" stroke-width="3.8"/>
<line x1="89.7" y1="331.7" x2="106.8" y2="321.8" stroke="#8f8e3c" stroke-width="3.8"/>
<line x1="141.0" y1="341.6" x2="141.0" y2="321.8" stroke="#c0c0c0" stroke-width="3.8"/>
<line x1="141.0" y1="321.8" x2="141.0" y2="302.0" stroke="#8f8e3c" stroke-width="3.8"/>
<line x1="141.0" y1="341.6" x2="123.9" y2="331.7" stroke="#c0c0c0" stroke-width="3.8"/>
<line x1="123.9" y1="331.7" x2="106.8" y2="321.8" stroke="#8f8e3c" stroke-width="3.8"/>
<line x1="38.4" y1="242.6" x2="55.3" y2="232.8" stroke="#8f8e3c" stroke-width="3.8"/>
<line x1="38.4" y1="242.6" x2="21.5" y2="232.8" stroke="#8f8e3c" stroke-width="3.8"/>
<line x1="106.8" y1="242.6" x2="123.7" y2="232.8" stroke="#8f8e3c" stroke-width="3.8"/>
<line x1="106.8" y1="242.6" x2="89.9" y2="232.8" stroke="#8f8e3c" stroke-width="3.8"/>
<line x1="4.2" y1="262.4" x2="4.2" y2="242.9" stroke="#8f8e3c" stroke-width="3.8"/>
<line x1="4.2" y1="262.4" x2="21.1" y2="272.1" stroke="#8f8e3c" stroke-width="3.8"/>
<line x1="4.2" y1="262.4" x2="-12.7" y2="272.1" stroke="#8f8e3c" stroke-width="3.8"/>
<line x1="72.6" y1="262.4" x2="72.6" y2="242.9" stroke="#8f8e3c" stroke-width="3.8"/>
<line x1="72.6" y1="262.4" x2="89.5" y2="272.1" stroke="#8f8e3c" stroke-width="3.8"/>
<line x1="72.6" y1="262.4" x2="55.7" y2="272.1" stroke="#8f8e3c" stroke-width="3.8"/>
<line x1="141.0" y1="262.4" x2="141.0" y2="242.9" stroke="#8f8e3c" stroke-width="3.8"/>
<line x1="141.0" y1="262.4" x2="157.9" y2="272.1" stroke="#8f8e3c" stroke-width="3.8"/>
<line x1="141.0" y1="262.4" x2="124.1" y2="272.1" stroke="#8f8e3c" stroke-width="3.8"/>
<line x1="4.2" y1="302.0" x2="21.1" y2="292.2" stroke="#8f8e3c" stroke-width="3.8"/>
<line x1="4.2" y1="302.0" x2="-12.7" y2="292.2" stroke="#8f8e3c" stroke-width="3.8"/>
<line x1="72.6" y1="302.0" x2="89.5" y2="292.2" stroke="#8f8e3c" stroke-width="3.8"/>
<line x1="72.6" y1="302.0" x2="55.7" y2="292.2" stroke="#8f8e3c" stroke-width="3.8"/>
<line x1="141.0" y1="302.0" x2="157.9" y2="292.2" stroke="#8f8e3c" stroke-width="3.8"/>
<line x1="141.0" y1="302.0" x2="124.1" y2="292.2" stroke="#8f8e3c" stroke-width="3.8"/>
<line x1="38.4" y1="321.8" x2="38.4" y2="302.3" stroke="#8f8e3c" stroke-width="3.8"/>
<line x1="38.4" y1="321.8" x2="55.3" y2="331.6" stroke="#8f8e3c" stroke-width="3.8"/>
<line x1="38.4" y1="321.8" x2="21.5" y2="331.6" stroke="#8f8e3c" stroke-width="3.8"/>
<line x1="106.8" y1="321.8" x2="106.8" y2="302.3" stroke="#8f8e3c" stroke-width="3.8"/>
<line x1="106.8" y1="321.8" x2="123.7" y2="331.6" stroke="#8f8e3c" stroke-width="3.8"/>
<line x1="106.8" y1="321.8" x2="89.9" y2="331.6" stroke="#8f8e3c" stroke-width="3.8"/>
<circle cx="38.4" cy="282.2" r="15.0" fill="url(#gCB)"/>
<circle cx="106.8" cy="282.2" r="15.0" fill="url(#gCB)"/>
<circle cx="4.2" cy="341.6" r="15.0" fill="url(#gCB)"/>
<circle cx="72.6" cy="341.6" r="15.0" fill="url(#gCB)"/>
<circle cx="141.0" cy="341.6" r="15.0" fill="url(#gCB)"/>
<circle cx="38.4" cy="242.6" r="15.0" fill="url(#gTiB)"/>
<circle cx="106.8" cy="242.6" r="15.0" fill="url(#gTiB)"/>
<circle cx="4.2" cy="262.4" r="15.0" fill="url(#gTiB)"/>
<circle cx="72.6" cy="262.4" r="15.0" fill="url(#gTiB)"/>
<circle cx="141.0" cy="262.4" r="15.0" fill="url(#gTiB)"/>
<circle cx="4.2" cy="302.0" r="15.0" fill="url(#gTiB)"/>
<circle cx="72.6" cy="302.0" r="15.0" fill="url(#gTiB)"/>
<circle cx="141.0" cy="302.0" r="15.0" fill="url(#gTiB)"/>
<circle cx="38.4" cy="321.8" r="15.0" fill="url(#gTiB)"/>
<circle cx="106.8" cy="321.8" r="15.0" fill="url(#gTiB)"/>
</g>
<g clip-path="url(#clip2)">
<circle cx="38.4" cy="242.6" r="6.2" fill="url(#gHc)"/>
<circle cx="106.8" cy="242.6" r="6.2" fill="url(#gHc)"/>
<circle cx="72.6" cy="301.6" r="6.2" fill="url(#gHc)"/>
<circle cx="141.0" cy="301.6" r="6.2" fill="url(#gHc)"/>
<line x1="65.2" y1="257.8" x2="81.1" y2="266.0" stroke="#7a1450" stroke-width="3.2"/>
<circle cx="65.2" cy="257.8" r="5.8" fill="url(#gHp)"/>
<circle cx="81.1" cy="266.0" r="5.8" fill="url(#gHp)"/>
<line x1="133.0" y1="265.2" x2="148.2" y2="257.0" stroke="#7a1450" stroke-width="3.2"/>
<circle cx="133.0" cy="265.2" r="5.8" fill="url(#gHp)"/>
<circle cx="148.2" cy="257.0" r="5.8" fill="url(#gHp)"/>
<line x1="32.5" y1="324.8" x2="47.7" y2="316.6" stroke="#7a1450" stroke-width="3.2"/>
<circle cx="32.5" cy="324.8" r="5.8" fill="url(#gHp)"/>
<circle cx="47.7" cy="316.6" r="5.8" fill="url(#gHp)"/>
<line x1="107.3" y1="310.8" x2="107.3" y2="329.5" stroke="#7a1450" stroke-width="3.2"/>
<circle cx="107.3" cy="310.8" r="5.8" fill="url(#gHp)"/>
<circle cx="107.3" cy="329.5" r="5.8" fill="url(#gHp)"/>
</g>
<path d="M53.6 253.6Q71.2 226.4 88.8 252.0" fill="none" stroke="#e3261c" stroke-width="2"/>
<path d="M51.9 256.3L53.1 246.8L60.0 251.3Z" fill="#e3261c"/>
<path d="M90.6 254.6L82.4 249.9L89.1 245.2Z" fill="#e3261c"/>
<path d="M121.0 254.2Q139.1 224.0 156.0 252.2" fill="none" stroke="#e3261c" stroke-width="2"/>
<path d="M119.4 256.9L120.3 247.5L127.3 251.7Z" fill="#e3261c"/>
<path d="M157.6 254.9L149.7 249.7L156.7 245.5Z" fill="#e3261c"/>
<path d="M19.8 314.6Q37.4 287.5 54.3 311.6" fill="none" stroke="#e3261c" stroke-width="2"/>
<path d="M18.1 317.3L19.3 307.8L26.2 312.3Z" fill="#e3261c"/>
<path d="M56.1 314.2L47.8 309.5L54.5 304.8Z" fill="#e3261c"/>
<path d="M88.2 314.2Q106.2 286.3 123.3 311.6" fill="none" stroke="#e3261c" stroke-width="2"/>
<path d="M86.5 316.9L87.7 307.4L94.6 311.9Z" fill="#e3261c"/>
<path d="M125.1 314.3L116.9 309.4L123.7 304.8Z" fill="#e3261c"/>
<line x1="119.0" y1="319.0" x2="190.0" y2="280.2" stroke="#7a1450" stroke-width="1.8"/>
<path d="M195.2 277.4L184.5 278.6L187.8 281.4L187.9 285.7Z" fill="#7a1450"/>
<line x1="227.0" y1="252.5" x2="217.3" y2="276.3" stroke="#7a1450" stroke-width="3.4"/>
<circle cx="227.0" cy="252.5" r="9.5" fill="url(#gHp)"/>
<circle cx="217.3" cy="276.3" r="9.5" fill="url(#gHp)"/>
<text x="242.4" y="277.7" fill="#8c2331"><tspan font-style="italic">d</tspan><tspan font-size="7.1" dy="2.4">H–H</tspan><tspan dy="-2.4"> = 0.796 Å</tspan></text>
<text x="220.5" y="311.5" fill="#0b0b0b" text-anchor="middle">Weak chemically</text>
<text x="220.5" y="323.6" fill="#0b0b0b" text-anchor="middle">absorbed H<tspan font-size="7.1" dy="2.4">2</tspan><tspan dy="-2.4">&#8203;</tspan></text>
<g clip-path="url(#clip3)">
<line x1="373.3" y1="283.4" x2="373.3" y2="263.5" stroke="#c0c0c0" stroke-width="3.8"/>
<line x1="373.3" y1="263.5" x2="373.3" y2="243.6" stroke="#8f8e3c" stroke-width="3.8"/>
<line x1="373.3" y1="283.4" x2="356.5" y2="273.4" stroke="#c0c0c0" stroke-width="3.8"/>
<line x1="356.5" y1="273.4" x2="339.6" y2="263.5" stroke="#8f8e3c" stroke-width="3.8"/>
<line x1="373.3" y1="283.4" x2="390.1" y2="273.4" stroke="#c0c0c0" stroke-width="3.8"/>
<line x1="390.1" y1="273.4" x2="407.0" y2="263.5" stroke="#8f8e3c" stroke-width="3.8"/>
<line x1="373.3" y1="283.4" x2="356.5" y2="293.4" stroke="#c0c0c0" stroke-width="3.8"/>
<line x1="356.5" y1="293.4" x2="339.6" y2="303.3" stroke="#8f8e3c" stroke-width="3.8"/>
<line x1="373.3" y1="283.4" x2="390.1" y2="293.4" stroke="#c0c0c0" stroke-width="3.8"/>
<line x1="390.1" y1="293.4" x2="407.0" y2="303.3" stroke="#8f8e3c" stroke-width="3.8"/>
<line x1="373.3" y1="283.4" x2="373.3" y2="303.3" stroke="#c0c0c0" stroke-width="3.8"/>
<line x1="373.3" y1="303.3" x2="373.3" y2="323.2" stroke="#8f8e3c" stroke-width="3.8"/>
<line x1="440.7" y1="283.4" x2="440.7" y2="263.5" stroke="#c0c0c0" stroke-width="3.8"/>
<line x1="440.7" y1="263.5" x2="440.7" y2="243.6" stroke="#8f8e3c" stroke-width="3.8"/>
<line x1="440.7" y1="283.4" x2="423.9" y2="273.4" stroke="#c0c0c0" stroke-width="3.8"/>
<line x1="423.9" y1="273.4" x2="407.0" y2="263.5" stroke="#8f8e3c" stroke-width="3.8"/>
<line x1="440.7" y1="283.4" x2="457.6" y2="273.4" stroke="#c0c0c0" stroke-width="3.8"/>
<line x1="457.6" y1="273.4" x2="474.4" y2="263.5" stroke="#8f8e3c" stroke-width="3.8"/>
<line x1="440.7" y1="283.4" x2="423.9" y2="293.4" stroke="#c0c0c0" stroke-width="3.8"/>
<line x1="423.9" y1="293.4" x2="407.0" y2="303.3" stroke="#8f8e3c" stroke-width="3.8"/>
<line x1="440.7" y1="283.4" x2="457.6" y2="293.4" stroke="#c0c0c0" stroke-width="3.8"/>
<line x1="457.6" y1="293.4" x2="474.4" y2="303.3" stroke="#8f8e3c" stroke-width="3.8"/>
<line x1="440.7" y1="283.4" x2="440.7" y2="303.3" stroke="#c0c0c0" stroke-width="3.8"/>
<line x1="440.7" y1="303.3" x2="440.7" y2="323.2" stroke="#8f8e3c" stroke-width="3.8"/>
<line x1="339.6" y1="343.1" x2="339.6" y2="323.2" stroke="#c0c0c0" stroke-width="3.8"/>
<line x1="339.6" y1="323.2" x2="339.6" y2="303.3" stroke="#8f8e3c" stroke-width="3.8"/>
<line x1="339.6" y1="343.1" x2="356.5" y2="333.1" stroke="#c0c0c0" stroke-width="3.8"/>
<line x1="356.5" y1="333.1" x2="373.3" y2="323.2" stroke="#8f8e3c" stroke-width="3.8"/>
<line x1="407.0" y1="343.1" x2="407.0" y2="323.2" stroke="#c0c0c0" stroke-width="3.8"/>
<line x1="407.0" y1="323.2" x2="407.0" y2="303.3" stroke="#8f8e3c" stroke-width="3.8"/>
<line x1="407.0" y1="343.1" x2="390.1" y2="333.1" stroke="#c0c0c0" stroke-width="3.8"/>
<line x1="390.1" y1="333.1" x2="373.3" y2="323.2" stroke="#8f8e3c" stroke-width="3.8"/>
<line x1="407.0" y1="343.1" x2="423.9" y2="333.1" stroke="#c0c0c0" stroke-width="3.8"/>
<line x1="423.9" y1="333.1" x2="440.7" y2="323.2" stroke="#8f8e3c" stroke-width="3.8"/>
<line x1="474.4" y1="343.1" x2="474.4" y2="323.2" stroke="#c0c0c0" stroke-width="3.8"/>
<line x1="474.4" y1="323.2" x2="474.4" y2="303.3" stroke="#8f8e3c" stroke-width="3.8"/>
<line x1="474.4" y1="343.1" x2="457.6" y2="333.1" stroke="#c0c0c0" stroke-width="3.8"/>
<line x1="457.6" y1="333.1" x2="440.7" y2="323.2" stroke="#8f8e3c" stroke-width="3.8"/>
<line x1="373.3" y1="243.6" x2="390.2" y2="233.8" stroke="#8f8e3c" stroke-width="3.8"/>
<line x1="373.3" y1="243.6" x2="356.4" y2="233.8" stroke="#8f8e3c" stroke-width="3.8"/>
<line x1="440.7" y1="243.6" x2="457.6" y2="233.8" stroke="#8f8e3c" stroke-width="3.8"/>
<line x1="440.7" y1="243.6" x2="423.8" y2="233.8" stroke="#8f8e3c" stroke-width="3.8"/>
<line x1="339.6" y1="263.5" x2="339.6" y2="244.0" stroke="#8f8e3c" stroke-width="3.8"/>
<line x1="339.6" y1="263.5" x2="356.5" y2="273.2" stroke="#8f8e3c" stroke-width="3.8"/>
<line x1="339.6" y1="263.5" x2="322.7" y2="273.2" stroke="#8f8e3c" stroke-width="3.8"/>
<line x1="407.0" y1="263.5" x2="407.0" y2="244.0" stroke="#8f8e3c" stroke-width="3.8"/>
<line x1="407.0" y1="263.5" x2="423.9" y2="273.2" stroke="#8f8e3c" stroke-width="3.8"/>
<line x1="407.0" y1="263.5" x2="390.1" y2="273.2" stroke="#8f8e3c" stroke-width="3.8"/>
<line x1="474.4" y1="263.5" x2="474.4" y2="244.0" stroke="#8f8e3c" stroke-width="3.8"/>
<line x1="474.4" y1="263.5" x2="491.3" y2="273.2" stroke="#8f8e3c" stroke-width="3.8"/>
<line x1="474.4" y1="263.5" x2="457.5" y2="273.2" stroke="#8f8e3c" stroke-width="3.8"/>
<line x1="339.6" y1="303.3" x2="356.5" y2="293.6" stroke="#8f8e3c" stroke-width="3.8"/>
<line x1="339.6" y1="303.3" x2="322.7" y2="293.6" stroke="#8f8e3c" stroke-width="3.8"/>
<line x1="407.0" y1="303.3" x2="423.9" y2="293.6" stroke="#8f8e3c" stroke-width="3.8"/>
<line x1="407.0" y1="303.3" x2="390.1" y2="293.6" stroke="#8f8e3c" stroke-width="3.8"/>
<line x1="474.4" y1="303.3" x2="491.3" y2="293.6" stroke="#8f8e3c" stroke-width="3.8"/>
<line x1="474.4" y1="303.3" x2="457.5" y2="293.6" stroke="#8f8e3c" stroke-width="3.8"/>
<line x1="373.3" y1="323.2" x2="373.3" y2="303.7" stroke="#8f8e3c" stroke-width="3.8"/>
<line x1="373.3" y1="323.2" x2="390.2" y2="332.9" stroke="#8f8e3c" stroke-width="3.8"/>
<line x1="373.3" y1="323.2" x2="356.4" y2="332.9" stroke="#8f8e3c" stroke-width="3.8"/>
<line x1="440.7" y1="323.2" x2="440.7" y2="303.7" stroke="#8f8e3c" stroke-width="3.8"/>
<line x1="440.7" y1="323.2" x2="457.6" y2="332.9" stroke="#8f8e3c" stroke-width="3.8"/>
<line x1="440.7" y1="323.2" x2="423.8" y2="332.9" stroke="#8f8e3c" stroke-width="3.8"/>
<circle cx="373.3" cy="283.4" r="15.0" fill="url(#gCB)"/>
<circle cx="440.7" cy="283.4" r="15.0" fill="url(#gCB)"/>
<circle cx="339.6" cy="343.1" r="15.0" fill="url(#gCB)"/>
<circle cx="407.0" cy="343.1" r="15.0" fill="url(#gCB)"/>
<circle cx="474.4" cy="343.1" r="15.0" fill="url(#gCB)"/>
<circle cx="373.3" cy="243.6" r="15.0" fill="url(#gTiC)"/>
<circle cx="440.7" cy="243.6" r="15.0" fill="url(#gTiC)"/>
<circle cx="339.6" cy="263.5" r="15.0" fill="url(#gTiC)"/>
<circle cx="407.0" cy="263.5" r="15.0" fill="url(#gTiC)"/>
<circle cx="474.4" cy="263.5" r="15.0" fill="url(#gTiC)"/>
<circle cx="339.6" cy="303.3" r="15.0" fill="url(#gTiC)"/>
<circle cx="407.0" cy="303.3" r="15.0" fill="url(#gTiC)"/>
<circle cx="474.4" cy="303.3" r="15.0" fill="url(#gTiC)"/>
<circle cx="373.3" cy="323.2" r="15.0" fill="url(#gTiC)"/>
<circle cx="440.7" cy="323.2" r="15.0" fill="url(#gTiC)"/>
</g>
<g clip-path="url(#clip3)">
<circle cx="406.7" cy="263.6" r="6.2" fill="url(#gHc)"/>
<circle cx="474.1" cy="263.6" r="6.2" fill="url(#gHc)"/>
<circle cx="373.0" cy="322.9" r="6.2" fill="url(#gHc)"/>
<circle cx="440.4" cy="322.9" r="6.2" fill="url(#gHc)"/>
<line x1="370.2" y1="236.0" x2="378.4" y2="250.5" stroke="#1c65b0" stroke-width="2.8"/>
<circle cx="370.2" cy="236.0" r="6.2" fill="url(#gHb)"/>
<circle cx="378.4" cy="250.5" r="6.2" fill="url(#gHb)"/>
<line x1="437.3" y1="236.0" x2="446.6" y2="250.0" stroke="#1c65b0" stroke-width="2.8"/>
<circle cx="437.3" cy="236.0" r="6.2" fill="url(#gHb)"/>
<circle cx="446.6" cy="250.0" r="6.2" fill="url(#gHb)"/>
<line x1="404.6" y1="295.6" x2="412.3" y2="309.6" stroke="#1c65b0" stroke-width="2.8"/>
<circle cx="404.6" cy="295.6" r="6.2" fill="url(#gHb)"/>
<circle cx="412.3" cy="309.6" r="6.2" fill="url(#gHb)"/>
<line x1="471.2" y1="295.6" x2="480.5" y2="309.6" stroke="#1c65b0" stroke-width="2.8"/>
<circle cx="471.2" cy="295.6" r="6.2" fill="url(#gHb)"/>
<circle cx="480.5" cy="309.6" r="6.2" fill="url(#gHb)"/>
</g>
<line x1="482.8" y1="300.3" x2="534.5" y2="274.6" stroke="#2546a0" stroke-width="1.8"/>
<path d="M539.4 272.2L528.7 273.2L532 276.1L531.9 280.4Z" fill="#2546a0"/>
<line x1="557.3" y1="259.6" x2="558.9" y2="280.4" stroke="#1f6ab6" stroke-width="7"/>
<circle cx="557.3" cy="259.6" r="8.6" fill="url(#gHb)"/>
<circle cx="558.9" cy="280.4" r="8.6" fill="url(#gHb)"/>
<text x="580.5" y="281.2" fill="#3c82c8"><tspan font-style="italic">d</tspan><tspan font-size="7.1" dy="2.4">H–H</tspan><tspan dy="-2.4"> = 0.750 Å</tspan></text>
<text x="560.8" y="311.5" fill="#0b0b0b" text-anchor="middle">Physically</text>
<text x="560.8" y="323.6" fill="#0b0b0b" text-anchor="middle">adsorbed H<tspan font-size="7.1" dy="2.4">2</tspan><tspan dy="-2.4">&#8203;</tspan></text>
<rect x="50.9" y="355.0" width="56.0" height="201.5" fill="url(#bBlue)"/>
<rect x="116.7" y="355.0" width="55.1" height="201.5" fill="url(#bPur)"/>
<rect x="176.0" y="355.0" width="23.4" height="201.5" fill="url(#bRed)"/>
<rect x="176" y="355.0" width="2.2" height="201.5" fill="#fff" opacity="0.28"/>
<rect x="197.2" y="355.0" width="2.2" height="201.5" fill="#fff" opacity="0.28"/>
<rect x="20.4" y="355.0" width="189.6" height="201.5" fill="none" stroke="#777" stroke-width="0.7"/>
<line x1="20.4" y1="556.5" x2="20.4" y2="560.5" stroke="#777" stroke-width="0.7"/>
<text x="20.4" y="573.0" fill="#0b0b0b" text-anchor="middle">30</text>
<line x1="74.4" y1="556.5" x2="74.4" y2="560.5" stroke="#777" stroke-width="0.7"/>
<text x="74.4" y="573.0" fill="#0b0b0b" text-anchor="middle">20</text>
<line x1="128.4" y1="556.5" x2="128.4" y2="560.5" stroke="#777" stroke-width="0.7"/>
<text x="128.4" y="573.0" fill="#0b0b0b" text-anchor="middle">10</text>
<line x1="182.4" y1="556.5" x2="182.4" y2="560.5" stroke="#777" stroke-width="0.7"/>
<text x="182.4" y="573.0" fill="#0b0b0b" text-anchor="middle">0</text>
<text x="114.8" y="589.0" fill="#0b0b0b" text-anchor="middle">Shift (ppm)</text>
<text transform="translate(9.3,455.5) rotate(-90)" text-anchor="middle" fill="#0b0b0b">Intensity (a.u.)</text>
<text x="-1.4" y="357.3" fill="#0b0b0b" style="font-size:12px" font-weight="bold">c</text>
<g clip-path="url(#clipC)" fill="none" stroke-linejoin="round" stroke-linecap="round">
<path d="M20.3 553.6C21.8 553.4 27.1 553.2 29.2 552.5C31.3 551.8 31.7 549.7 32.8 549.6C33.9 549.5 33.8 551.9 35.6 551.8C37.4 551.7 40.9 550.6 43.4 548.9C45.9 547.2 48.6 544.0 50.5 541.8C52.4 539.5 53.6 536.0 54.8 535.4C56.0 534.8 56.0 538.4 57.6 538.3C59.2 538.2 61.7 536.2 64.7 534.7C67.7 533.2 72.4 530.6 75.4 529.4C78.4 528.2 79.8 527.3 82.5 527.6C85.2 527.9 89.2 530.1 91.4 531.2C93.7 532.3 94.8 534.1 96.0 534.0C97.2 533.9 97.5 530.4 98.5 530.5C99.5 530.6 100.5 533.8 102.0 534.7C103.5 535.6 105.0 536.4 107.4 535.8C109.8 535.2 113.2 532.9 116.2 531.2C119.2 529.5 122.1 527.6 125.1 525.8C128.1 524.0 131.0 523.5 134.0 520.5C137.0 517.5 140.2 511.4 142.9 508.1C145.6 504.9 147.6 501.8 150.0 501.0C152.4 500.2 155.0 501.9 157.1 503.5C159.2 505.1 160.8 510.6 162.4 510.6C164.1 510.6 165.7 502.4 167.0 503.5C168.3 504.6 168.9 513.9 170.2 517.0C171.5 520.1 173.2 522.3 174.9 522.3C176.6 522.3 178.4 523.2 180.2 517.0C182.0 510.8 184.0 495.4 185.5 485.0C187.0 474.6 188.3 460.8 189.1 454.8C189.9 448.8 189.9 448.5 190.5 448.8C191.1 449.1 191.7 448.2 192.6 456.6C193.5 465.0 195.0 488.0 196.2 499.2C197.4 510.4 198.5 518.7 199.7 524.0C200.9 529.3 201.8 529.7 203.3 531.2C204.8 532.7 207.5 532.8 208.6 533.0C209.7 533.2 209.8 532.7 210.0 532.6" stroke="#148888" stroke-width="2.7"/>
<path d="M20.3 549.0C21.8 548.7 26.2 547.9 29.2 547.2C32.2 546.5 35.4 545.0 38.1 544.7C40.8 544.4 42.8 546.2 45.2 545.4C47.6 544.6 50.2 542.1 52.3 540.0C54.4 537.9 56.0 535.1 57.6 533.0C59.2 530.9 60.7 527.6 62.2 527.6C63.7 527.6 64.6 533.0 66.5 533.0C68.4 533.0 70.6 529.1 73.6 527.6C76.6 526.1 80.8 524.0 84.3 524.0C87.8 524.0 92.2 526.8 94.9 527.6C97.6 528.4 98.8 529.0 100.3 528.7C101.8 528.4 102.7 525.7 103.8 525.8C104.9 525.9 105.2 529.2 106.7 529.4C108.2 529.6 110.5 529.0 112.7 526.9C114.9 524.8 118.0 521.0 119.8 517.0C121.6 513.0 122.3 506.9 123.3 502.8C124.3 498.7 124.9 492.1 125.8 492.1C126.7 492.1 127.6 499.1 128.7 502.8C129.8 506.5 130.7 513.5 132.2 514.1C133.7 514.7 135.5 511.2 137.6 506.3C139.7 501.4 142.6 490.1 144.7 485.0C146.8 479.9 148.2 476.0 150.0 475.4C151.8 474.8 153.5 477.7 155.3 481.4C157.1 485.1 159.2 494.1 160.7 497.4C162.2 500.7 163.1 503.4 164.2 501.0C165.2 498.6 166.1 483.5 167.0 483.2C167.9 482.9 168.5 493.6 169.5 499.2C170.5 504.8 171.9 513.6 173.1 517.0C174.3 520.4 175.1 521.6 176.6 519.8C178.1 518.0 180.5 516.8 182.0 506.3C183.5 495.8 184.3 476.7 185.5 456.6C186.7 436.5 188.3 398.8 189.1 385.5C189.9 372.2 189.7 376.6 190.1 376.6C190.5 376.6 190.9 372.2 191.6 385.5C192.3 398.8 193.5 437.1 194.4 456.6C195.3 476.2 196.0 491.6 196.9 502.8C197.8 514.0 198.6 519.0 199.7 524.0C200.8 529.0 202.1 531.2 203.3 533.0C204.5 534.8 205.7 534.9 206.8 534.7C207.9 534.5 209.5 532.2 210.0 531.7" stroke="#7a1620" stroke-width="2.7"/>
</g>
<line x1="21.6" y1="366.0" x2="45.0" y2="366.0" stroke="#7a1620" stroke-width="2.6"/>
<line x1="21.6" y1="384.4" x2="45.0" y2="384.4" stroke="#148888" stroke-width="2.6"/>
<text x="50.6" y="369.7" fill="#8c2331">Hydrogenated Ti<tspan font-size="7.1" dy="2.4">2</tspan><tspan dy="-2.4">CT</tspan><tspan font-size="7.1" dy="2.4" font-style="italic">x</tspan></text>
<text x="50.6" y="388" fill="#148888">Pristine Ti<tspan font-size="7.1" dy="2.4">2</tspan><tspan dy="-2.4">CT</tspan><tspan font-size="7.1" dy="2.4" font-style="italic">x</tspan></text>
<rect x="28.1" y="450.2" width="18.1" height="18.1" fill="url(#lRed)"/>
<rect x="28.1" y="477.2" width="18.1" height="17.8" fill="url(#lPur)"/>
<rect x="28.1" y="503.5" width="18.1" height="18.1" fill="url(#lBlue)"/>
<text x="53.4" y="456.8" fill="#0b0b0b">Weak chemically</text>
<text x="53.4" y="468.8" fill="#0b0b0b">absorbed H<tspan font-size="7.1" dy="2.4">2</tspan><tspan dy="-2.4">&#8203;</tspan></text>
<text x="53.4" y="489.6" fill="#0b0b0b">Bonded H<tspan font-size="7.1" dy="2.4">2</tspan><tspan dy="-2.4">&#8203;</tspan></text>
<text x="53.4" y="516.2" fill="#0b0b0b">–OH</text>
<rect x="242.5" y="354.5" width="117.5" height="198.5" fill="none" stroke="#777" stroke-width="0.7"/>
<line x1="248.3" y1="553.0" x2="248.3" y2="557.0" stroke="#777" stroke-width="0.7"/>
<text x="248.3" y="570.2" fill="#0b0b0b" text-anchor="middle">50</text>
<line x1="274.8" y1="553.0" x2="274.8" y2="557.0" stroke="#777" stroke-width="0.7"/>
<text x="274.8" y="570.2" fill="#0b0b0b" text-anchor="middle">100</text>
<line x1="301.3" y1="553.0" x2="301.3" y2="557.0" stroke="#777" stroke-width="0.7"/>
<text x="301.3" y="570.2" fill="#0b0b0b" text-anchor="middle">150</text>
<line x1="327.8" y1="553.0" x2="327.8" y2="557.0" stroke="#777" stroke-width="0.7"/>
<text x="327.8" y="570.2" fill="#0b0b0b" text-anchor="middle">200</text>
<line x1="354.3" y1="553.0" x2="354.3" y2="557.0" stroke="#777" stroke-width="0.7"/>
<text x="354.3" y="570.2" fill="#0b0b0b" text-anchor="middle">250</text>
<text x="301.3" y="587.0" fill="#0b0b0b" text-anchor="middle">Temperature (°C)</text>
<text transform="translate(234,454) rotate(-90)" text-anchor="middle" fill="#0b0b0b">Intensity (a.u.)</text>
<text x="224.6" y="356.5" fill="#0b0b0b" style="font-size:12px" font-weight="bold">d</text>
<g clip-path="url(#clipD)" fill="none" stroke-linejoin="round" stroke-linecap="round">
<path d="M242.9 547.9C243.8 547.1 246.4 544.4 248.3 542.9C250.2 541.4 252.2 539.8 254.6 538.8C257.0 537.8 260.1 537.3 262.9 536.7C265.7 536.1 268.5 536.2 271.3 535.4C274.1 534.6 276.8 533.0 279.6 531.7C282.4 530.4 285.1 528.5 287.9 527.5C290.7 526.5 293.9 526.0 296.3 525.8C298.7 525.6 300.1 525.9 302.5 526.3C304.9 526.7 307.7 527.4 310.8 528.3C313.9 529.2 317.8 530.7 321.3 531.7C324.8 532.7 327.9 533.3 331.7 534.4C335.5 535.5 339.5 536.9 344.2 538.2C348.9 539.5 357.0 541.5 359.6 542.2" stroke="#148888" stroke-width="2"/>
<path d="M242.9 546.3C243.8 544.8 246.4 540.8 248.3 537.5C250.2 534.2 252.5 529.2 254.6 526.3C256.7 523.4 258.7 521.6 260.8 520.0C262.9 518.4 265.5 518.4 267.1 516.7C268.7 515.0 269.2 514.6 270.4 509.6C271.6 504.6 272.9 496.8 274.2 486.7C275.5 476.6 277.1 459.3 278.3 449.2C279.6 439.1 280.7 431.4 281.7 426.3C282.7 421.2 283.4 418.8 284.2 418.8C285.0 418.8 285.7 420.6 286.7 426.3C287.7 432.1 288.9 443.9 290.0 453.3C291.1 462.7 292.1 474.2 293.3 482.5C294.6 490.8 296.0 497.9 297.5 503.3C299.0 508.7 300.6 511.9 302.5 515.0C304.4 518.1 306.7 520.4 308.8 522.1C310.9 523.8 313.1 524.6 315.0 525.0C316.9 525.4 318.5 525.0 320.0 524.2C321.5 523.4 322.9 521.2 324.2 520.0C325.4 518.8 326.4 516.7 327.5 516.7C328.6 516.7 329.6 517.7 330.8 520.0C332.1 522.3 333.5 527.9 335.0 530.4C336.5 532.9 337.8 534.0 340.0 535.3C342.2 536.6 345.0 537.4 348.3 538.3C351.6 539.2 357.7 540.4 359.6 540.8" stroke="#7a1620" stroke-width="2"/>
</g>
<line x1="244.7" y1="362.5" x2="266.7" y2="362.5" stroke="#7a1620" stroke-width="1.7"/>
<line x1="244.7" y1="391.7" x2="266.7" y2="391.7" stroke="#148888" stroke-width="1.7"/>
<text x="270.0" y="365.9" fill="#8c2331">Hydrogenated</text>
<text x="270" y="377.8" fill="#8c2331">Ti<tspan font-size="7.1" dy="2.4">2</tspan><tspan dy="-2.4">CT</tspan><tspan font-size="7.1" dy="2.4" font-style="italic">x</tspan></text>
<text x="270" y="395.2" fill="#148888">Pristine Ti<tspan font-size="7.1" dy="2.4">2</tspan><tspan dy="-2.4">CT</tspan><tspan font-size="7.1" dy="2.4" font-style="italic">x</tspan></text>
<text x="270.0" y="413.0" fill="#8c2331">117 °C</text>
<text x="244.4" y="499.2" fill="#8c2331">80 °C</text>
<text x="320.4" y="507.5" fill="#8c2331">201 °C</text>
<rect x="391.7" y="354.8" width="292.3" height="198.2" fill="none" stroke="#777" stroke-width="0.7"/>
<line x1="391.7" y1="553.0" x2="391.7" y2="557.0" stroke="#777" stroke-width="0.7"/>
<text x="391.7" y="570.0" fill="#0b0b0b" text-anchor="middle">4,000</text>
<line x1="473.0" y1="553.0" x2="473.0" y2="557.0" stroke="#777" stroke-width="0.7"/>
<text x="473.0" y="570.0" fill="#0b0b0b" text-anchor="middle">3,000</text>
<line x1="554.2" y1="553.0" x2="554.2" y2="557.0" stroke="#777" stroke-width="0.7"/>
<text x="554.2" y="570.0" fill="#0b0b0b" text-anchor="middle">2,000</text>
<line x1="635.5" y1="553.0" x2="635.5" y2="557.0" stroke="#777" stroke-width="0.7"/>
<text x="635.5" y="570.0" fill="#0b0b0b" text-anchor="middle">1,000</text>
<text x="537.8" y="586.4" text-anchor="middle" fill="#0b0b0b">Wavenumber (cm<tspan font-size="7.3" dy="-4.2">–1</tspan><tspan dy="4.2">)</tspan></text>
<text transform="translate(383.4,452.6) rotate(-90)" text-anchor="middle" fill="#0b0b0b">Transmittance (%)</text>
<text x="375.0" y="357.0" fill="#0b0b0b" style="font-size:12px" font-weight="bold">e</text>
<g clip-path="url(#clipE)" fill="none" stroke-linejoin="round" stroke-linecap="round">
<path d="M391.7 378.9L392.8 378.6L393.9 379.6L395.0 378.4L396.0 379.4L397.0 375.9L397.5 376.9L398.0 374.5L398.5 381.2L399.0 377.9L399.5 381.8L400.0 378.8L400.5 377.0L400.9 378.3L401.4 377.4L401.8 381.2L402.3 379.9L402.7 378.8L403.2 375.2L403.6 380.5L404.1 378.6L404.5 379.3L405.0 381.2L405.5 378.2L405.9 379.8L406.4 380.9L406.8 379.7L407.3 381.1L407.7 376.5L408.2 381.2L408.6 381.8L409.1 380.8L409.5 380.2L410.0 381.6L410.5 379.8L410.9 377.6L411.4 380.9L411.8 381.9L412.3 379.7L412.8 377.8L413.2 377.1L413.7 382.0L414.1 379.3L414.6 380.2L415.0 381.2L415.5 382.7L416.0 380.2L416.5 381.1L417.0 384.7L417.5 380.9L418.0 381.6L418.5 383.8L419.1 382.4L419.6 384.1L420.2 386.4L420.7 385.5L421.2 382.8L421.6 387.3L422.1 387.9L422.6 384.0L422.7 388.2L423.7 391.4L424.9 395.0L426.0 398.5L427.2 402.1L428.4 405.4L429.6 407.7L430.8 410.1L431.9 412.4L433.1 415.0L434.3 417.1L435.4 419.3L436.4 420.8L437.4 422.1L438.5 423.8L439.9 420.6L441.3 417.3L442.5 410.9L443.6 405.2L444.8 399.0L445.9 394.9L447.1 391.1L448.2 387.1L449.4 383.3L450.4 382.6L451.4 381.7L452.4 381.3L453.4 380.0L454.4 379.1L455.4 378.9L456.4 377.7L457.5 377.2L458.5 377.3L459.6 376.7L460.7 376.9L461.7 377.0L462.8 376.7L463.8 376.4L464.9 375.9L466.0 375.7L467.0 375.4L468.1 375.6L469.3 375.9L470.5 376.5L471.6 376.7L472.8 377.0L474.0 377.9L475.6 389.7L476.5 396.6L477.9 382.6L479.3 390.8L480.7 383.8L482.6 379.8L484.5 375.4L486.1 388.1L487.5 379.7L488.9 378.5L490.3 377.5L491.4 377.5L492.4 377.7L493.4 377.8L494.5 377.4L495.6 377.7L496.6 377.6L497.7 377.5L498.7 377.0L499.8 376.9L500.8 376.8L501.8 376.8L502.8 376.8L503.8 377.0L504.8 377.2L505.8 377.1L506.9 376.9L507.9 377.0L508.9 377.0L509.9 376.5L510.9 376.9L511.9 377.1L512.9 376.9L513.9 376.9L514.9 376.7L515.9 376.5L516.9 376.9L517.9 376.5L519.0 376.8L520.0 376.9L521.0 376.5L522.0 376.5L523.0 376.9L524.0 376.7L525.0 376.3L526.0 376.3L527.0 376.4L528.1 377.0L529.1 377.0L530.1 376.6L531.1 377.2L532.2 377.4L533.2 377.2L534.2 377.1L535.2 377.3L536.3 377.1L537.3 377.1L538.3 377.8L539.4 377.7L540.4 377.6L541.4 378.0L542.4 377.7L543.5 378.1L544.5 378.2L545.5 377.9L546.6 378.0L547.6 378.1L548.6 378.1L549.7 378.5L550.7 378.3L551.7 378.5L552.8 378.4L553.8 379.1L554.8 378.8L555.9 378.9L556.9 379.1L557.9 379.4L559.0 379.2L560.0 380.1L561.0 379.5L562.1 379.8L563.1 380.0L564.2 379.2L565.2 380.2L566.3 379.9L567.3 379.8L568.4 381.6L569.4 380.5L570.5 381.7L571.7 382.9L572.9 381.3L574.0 379.7L575.2 378.9L576.4 379.2L577.6 379.9L578.7 378.8L579.9 379.9L581.1 379.5L582.2 380.8L583.4 382.9L585.3 390.6L586.5 386.6L587.6 382.9L589.0 379.7L590.4 375.3L591.8 379.1L593.2 382.4L594.2 382.0L595.3 382.0L596.3 381.1L597.5 383.0L598.6 384.7L599.8 380.9L600.9 375.8L602.1 375.8L603.2 375.5L604.4 373.7L605.6 378.4L606.8 383.3L608.0 385.8L609.1 387.1L610.3 389.8L611.5 391.6L612.6 392.0L613.8 393.5L615.0 394.3L616.2 396.7L617.3 398.1L618.5 399.5L619.7 396.5L620.8 396.1L622.0 394.4L623.2 389.9L624.3 387.9L625.5 384.5L626.6 381.6L627.8 381.6L629.0 379.0L630.1 377.7L631.3 378.4L632.5 377.8L633.6 376.1L634.8 376.4L636.0 376.0L637.1 375.0L638.3 374.2L639.5 373.8L640.7 375.4L641.8 374.8L643.0 376.6L644.2 377.5L645.3 377.9L646.5 379.7L647.7 382.6L648.8 384.8L650.0 386.2L651.2 390.4L652.3 392.3L653.5 395.0L654.7 393.3L655.8 393.6L657.0 393.2L658.1 398.2L659.3 400.6L660.5 407.4L661.7 414.9L663.3 420.6L665.2 398.2L666.8 409.9L668.7 407.4L669.9 415.9L671.0 422.2L672.2 417.9L673.4 412.0L674.5 404.9L675.7 399.1L677.3 405.6L679.2 418.9L681.1 404.3L682.7 413.1L684.3 377.7" stroke="#148888" stroke-width="1.95"/>
<path d="M391.7 440.9L392.7 438.9L393.8 440.9L394.8 438.7L395.9 440.7L396.9 439.5L397.9 439.2L399.0 439.6L400.0 440.5L401.0 438.9L402.0 438.6L403.0 439.7L404.0 439.0L405.0 438.8L406.0 439.0L407.0 438.8L408.0 439.2L409.1 439.5L410.2 439.4L411.3 440.5L412.3 439.2L413.4 439.7L414.5 438.8L415.6 439.2L416.8 440.3L417.9 442.9L419.1 445.2L420.3 449.5L421.4 453.3L422.6 456.9L423.8 458.3L424.9 459.8L426.1 460.3L427.2 462.0L428.4 462.2L429.6 462.8L430.7 463.5L431.9 463.6L433.1 464.2L434.3 466.3L435.4 468.4L436.6 469.9L437.8 471.4L438.9 472.4L440.1 471.2L441.2 469.9L442.4 468.7L443.6 466.2L444.8 463.9L445.9 461.5L447.1 459.7L448.1 457.7L449.1 455.9L450.1 454.2L451.1 453.1L452.1 451.4L453.1 449.6L454.1 447.6L455.1 447.0L456.2 446.4L457.2 445.8L458.3 445.0L459.3 444.5L460.4 443.8L461.4 443.6L462.5 443.0L463.5 442.0L464.5 441.7L465.5 442.1L466.5 441.6L467.5 441.5L468.5 441.2L469.5 441.3L470.5 441.3L471.7 442.3L472.8 443.1L474.0 444.3L475.8 461.5L477.0 466.3L478.2 459.2L479.3 466.4L481.0 456.8L482.9 459.2L484.5 452.4L486.1 456.9L488.0 450.2L489.2 449.4L490.3 448.9L491.5 448.1L492.6 447.5L493.8 446.9L494.8 446.3L495.9 446.0L496.9 446.2L498.0 445.3L499.0 445.5L500.1 445.2L501.1 444.5L502.2 444.8L503.2 444.6L504.2 444.6L505.2 444.8L506.2 445.0L507.2 444.7L508.2 445.2L509.2 445.3L510.2 445.7L511.4 448.6L512.5 451.5L513.7 448.5L514.9 445.8L515.9 445.0L516.9 444.4L517.9 443.5L518.9 442.8L519.9 442.2L520.9 441.8L521.9 440.7L522.9 442.0L524.0 441.8L525.0 442.2L526.0 442.3L527.0 442.6L528.0 442.5L529.0 441.9L530.0 443.2L531.0 443.3L532.0 443.1L533.0 443.8L534.0 444.7L535.0 444.5L536.0 446.1L537.0 446.1L538.0 446.5L539.0 447.5L540.2 449.0L541.4 449.1L542.5 450.8L543.7 452.0L544.9 450.4L546.0 449.4L547.2 448.6L548.4 448.1L549.4 447.5L550.4 446.6L551.4 446.0L552.4 444.5L553.4 443.9L554.4 443.4L555.4 443.4L556.4 442.4L557.4 442.3L558.4 441.1L559.4 440.8L560.4 440.6L561.4 440.8L562.4 440.4L563.4 440.3L564.4 439.7L565.4 439.9L566.4 439.8L567.4 439.7L568.4 439.1L569.4 440.2L571.0 456.7L572.4 439.2L573.8 440.3L575.2 440.1L576.4 443.8L577.5 447.4L578.7 450.8L579.9 454.7L581.0 459.2L582.2 463.8L584.1 467.6L585.5 462.8L586.9 459.6L588.1 458.2L589.2 457.9L590.4 457.7L591.6 458.4L592.8 461.1L594.0 458.9L595.1 457.6L596.2 458.6L597.4 459.1L598.6 455.4L599.7 450.1L600.9 444.8L602.1 442.5L603.2 440.8L604.4 438.4L605.6 441.1L606.8 443.8L608.0 447.2L609.1 450.2L610.3 454.1L611.5 454.4L612.6 456.9L613.8 458.5L615.0 459.0L616.1 461.8L617.3 463.3L618.5 465.3L619.6 466.2L620.8 468.3L621.9 470.2L623.1 473.0L624.3 473.7L625.5 474.7L626.6 476.1L627.8 477.2L629.0 479.6L630.1 482.4L631.3 486.2L632.7 488.1L634.1 491.7L635.1 488.2L636.1 485.6L637.1 483.4L638.3 478.3L639.5 473.8L640.7 469.9L641.9 465.2L643.0 460.4L644.3 455.2L645.3 464.6L646.5 449.6L647.8 447.9L648.9 450.2L650.0 451.4L651.1 456.3L652.3 459.9L653.5 465.0L654.6 469.5L655.8 473.7L657.0 480.4L658.1 488.6L659.3 494.5L660.5 503.2L661.7 511.2L663.3 516.9L665.2 507.0L666.4 499.2L667.5 490.1L668.7 487.1L669.9 483.1L671.7 488.1L673.4 473.9L674.5 467.7L675.7 461.8L677.3 468.9L679.2 495.6L680.5 497.0L682.0 468.9L683.1 455.2L684.3 440.0" stroke="#7a1620" stroke-width="1.95"/>
</g>
<line x1="423.5" y1="367.2" x2="423.5" y2="476.4" stroke="#000" stroke-width="1.25" stroke-dasharray="6.8 3.7"/>
<line x1="513.0" y1="369.5" x2="513.0" y2="471.2" stroke="#000" stroke-width="1.25" stroke-dasharray="6.8 3.7"/>
<line x1="571.3" y1="367.9" x2="571.3" y2="503.2" stroke="#000" stroke-width="1.25" stroke-dasharray="6.8 3.7"/>
<line x1="584.1" y1="366.0" x2="584.1" y2="476.4" stroke="#000" stroke-width="1.25" stroke-dasharray="6.8 3.7"/>
<line x1="618.0" y1="378.9" x2="618.0" y2="411.6" stroke="#000" stroke-width="1.25" stroke-dasharray="6.8 3.7"/>
<line x1="634.8" y1="366.0" x2="634.8" y2="512.6" stroke="#000" stroke-width="1.25" stroke-dasharray="6.8 3.7"/>
<line x1="645.3" y1="366.0" x2="645.3" y2="495.0" stroke="#000" stroke-width="1.25" stroke-dasharray="6.8 3.7"/>
<line x1="671.0" y1="363.2" x2="671.0" y2="512.6" stroke="#000" stroke-width="1.25" stroke-dasharray="6.8 3.7"/>
<text x="394.5" y="364.9" fill="#148888">Dehydrogenated</text>
<text x="394.5" y="432.6" fill="#8c2331">Hydrogenated</text>
<text x="447.8" y="417.4" fill="#0b0b0b">OH</text>
<text x="479.3" y="405.3" fill="#0b0b0b">CH</text>
<text x="596.3" y="409.7" fill="#0b0b0b">OH</text>
<text x="409.7" y="491.0" fill="#0b0b0b">F–O–H</text>
<text x="503.6" y="483.3" fill="#0b0b0b">H–H</text>
<text x="572.9" y="488.2" fill="#0b0b0b">H–H–O</text>
<text x="557.2" y="514.0" fill="#0b0b0b">Ti–H</text>
<text x="604.4" y="522.6" fill="#0b0b0b">Ti–2H</text>
<text x="637.9" y="507.0" fill="#0b0b0b">H–F</text>
<text x="664.7" y="525.0" fill="#0b0b0b">Ti–F</text>
<line x1="603.7" y1="431.9" x2="609.6" y2="419.3" stroke="#929292" stroke-width="1.4"/>
<line x1="603.7" y1="431.9" x2="592.5" y2="436.0" stroke="#929292" stroke-width="1.4"/>
<line x1="603.7" y1="431.9" x2="598.5" y2="439.5" stroke="#929292" stroke-width="1.4"/>
<circle cx="609.6" cy="419.3" r="4.3" fill="url(#gH2)"/>
<circle cx="603.7" cy="431.9" r="5.7" fill="url(#gO)"/>
<line x1="416.7" y1="509.1" x2="425.6" y2="497.4" stroke="#929292" stroke-width="1.4"/>
<line x1="436.8" y1="507.4" x2="425.6" y2="497.4" stroke="#929292" stroke-width="1.4"/>
<line x1="416.7" y1="509.1" x2="405.0" y2="512.6" stroke="#929292" stroke-width="1.4"/>
<line x1="416.7" y1="509.1" x2="420.2" y2="520.3" stroke="#929292" stroke-width="1.4"/>
<line x1="436.8" y1="507.4" x2="436.1" y2="519.6" stroke="#929292" stroke-width="1.4"/>
<line x1="436.8" y1="507.4" x2="442.9" y2="514.2" stroke="#929292" stroke-width="1.4"/>
<circle cx="425.6" cy="497.4" r="4.4" fill="url(#gH2)"/>
<circle cx="416.7" cy="509.1" r="5.9" fill="url(#gF)"/>
<circle cx="436.8" cy="507.4" r="5.9" fill="url(#gO)"/>
<line x1="503.9" y1="494.1" x2="515.3" y2="492.7" stroke="#929292" stroke-width="1.4"/>
<line x1="503.9" y1="494.1" x2="509.7" y2="504.4" stroke="#929292" stroke-width="1.4"/>
<line x1="515.3" y1="492.7" x2="514.4" y2="503.2" stroke="#929292" stroke-width="1.4"/>
<circle cx="503.9" cy="494.1" r="4.1" fill="url(#gH2)"/>
<circle cx="515.3" cy="492.7" r="4.1" fill="url(#gH2)"/>
<line x1="588.6" y1="493.9" x2="592.8" y2="507.9" stroke="#929292" stroke-width="1.4"/>
<line x1="599.3" y1="499.0" x2="592.8" y2="507.9" stroke="#929292" stroke-width="1.4"/>
<line x1="592.8" y1="507.9" x2="586.9" y2="514.9" stroke="#929292" stroke-width="1.4"/>
<line x1="592.8" y1="507.9" x2="593.2" y2="517.2" stroke="#929292" stroke-width="1.4"/>
<circle cx="588.6" cy="493.9" r="4.4" fill="url(#gH2)"/>
<circle cx="599.3" cy="499.0" r="4.4" fill="url(#gH2)"/>
<circle cx="592.8" cy="507.9" r="5.6" fill="url(#gO)"/>
<line x1="565.4" y1="522.6" x2="564.0" y2="538.3" stroke="#929292" stroke-width="1.4"/>
<line x1="564.0" y1="538.3" x2="575.2" y2="542.9" stroke="#929292" stroke-width="1.4"/>
<line x1="564.0" y1="538.3" x2="557.2" y2="550.0" stroke="#929292" stroke-width="1.4"/>
<circle cx="565.4" cy="522.6" r="4.4" fill="url(#gH2)"/>
<circle cx="564.0" cy="538.3" r="6.3" fill="url(#gT2)"/>
<line x1="610.7" y1="529.6" x2="622.0" y2="539.0" stroke="#929292" stroke-width="1.4"/>
<line x1="632.0" y1="530.1" x2="622.0" y2="539.0" stroke="#929292" stroke-width="1.4"/>
<line x1="622.0" y1="539.0" x2="620.3" y2="550.0" stroke="#929292" stroke-width="1.4"/>
<line x1="622.0" y1="539.0" x2="626.6" y2="550.0" stroke="#929292" stroke-width="1.4"/>
<circle cx="610.7" cy="529.6" r="4.4" fill="url(#gH2)"/>
<circle cx="632.0" cy="530.1" r="4.4" fill="url(#gH2)"/>
<circle cx="622.0" cy="539.0" r="6.3" fill="url(#gT2)"/>
<line x1="651.9" y1="515.6" x2="648.4" y2="529.2" stroke="#929292" stroke-width="1.4"/>
<line x1="651.9" y1="515.6" x2="659.3" y2="509.8" stroke="#929292" stroke-width="1.4"/>
<line x1="648.4" y1="529.2" x2="640.7" y2="535.2" stroke="#929292" stroke-width="1.4"/>
<line x1="648.4" y1="529.2" x2="655.4" y2="535.9" stroke="#929292" stroke-width="1.4"/>
<circle cx="651.9" cy="515.6" r="4.4" fill="url(#gH2)"/>
<circle cx="648.4" cy="529.2" r="5.6" fill="url(#gF)"/>
<line x1="666.4" y1="532.0" x2="675.7" y2="541.1" stroke="#929292" stroke-width="1.4"/>
<line x1="675.7" y1="541.1" x2="684.0" y2="541.1" stroke="#929292" stroke-width="1.4"/>
<line x1="675.7" y1="541.1" x2="677.3" y2="551.0" stroke="#929292" stroke-width="1.4"/>
<circle cx="666.4" cy="532.0" r="5.6" fill="url(#gF)"/>
<circle cx="675.7" cy="541.1" r="5.6" fill="url(#gT2)"/>
<circle cx="403.9" cy="543.4" r="5.9" fill="url(#gF)"/>
<text x="413.9" y="547.0" fill="#0b0b0b">F</text>
<circle cx="436.1" cy="543.4" r="5.9" fill="url(#gO)"/>
<text x="444.8" y="547.0" fill="#0b0b0b">O</text>
<circle cx="468.1" cy="543.4" r="5.9" fill="url(#gT2)"/>
<text x="478.2" y="547.0" fill="#0b0b0b">Ti</text>
<circle cx="500.8" cy="543.4" r="4.1" fill="url(#gH2)"/>
<text x="508.3" y="547.0" fill="#0b0b0b">H</text>
<g fill="none" stroke="#000" stroke-width="1.25" stroke-dasharray="5.6 3.7">
<path d="M19.6 197.5V0.6H685"/>
<path d="M403.6 0.6V197.6"/>
<path d="M682.4 0.6V197.6"/>
<path d="M19.6 200V339"/>
<path d="M20 339.4H349" stroke="#2a2a2a"/>
<path d="M349.6 199V339.4H682.4V199"/>
</g>
<g fill="none" stroke="#5a5a5a" stroke-width="1.2" stroke-dasharray="5.6 3.7">
<path d="M20 197.9H684"/>
</g>
</svg></body></html>
